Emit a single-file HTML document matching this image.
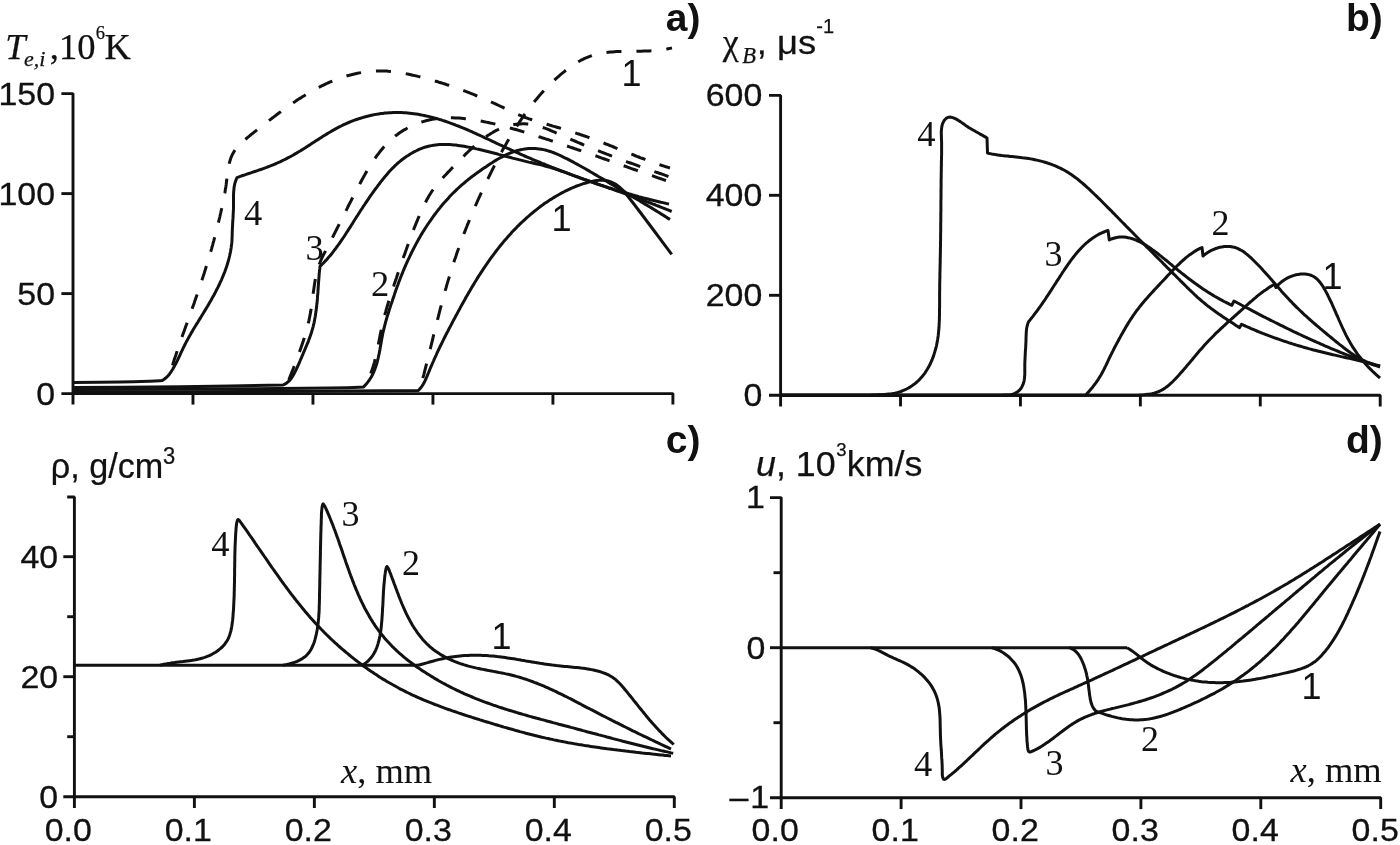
<!DOCTYPE html>
<html><head><meta charset="utf-8"><title>Figure</title>
<style>html,body{margin:0;padding:0;background:#fff}svg{display:block}</style></head>
<body>
<svg width="1400" height="845" viewBox="0 0 1400 845">
<rect width="1400" height="845" fill="#fff"/>
<g fill="none" stroke="#111" stroke-linecap="butt" stroke-linejoin="bevel">
<path d="M61.4 93.6L73 93.6L73 404.6" stroke-width="2.9"/>
<path d="M61.4 393.6L672.9 393.6L672.9 404.6" stroke-width="2.9"/>
<path d="M192.98000000000002 393.6L192.98000000000002 404.6" stroke-width="2.9"/>
<path d="M312.96000000000004 393.6L312.96000000000004 404.6" stroke-width="2.9"/>
<path d="M432.94 393.6L432.94 404.6" stroke-width="2.9"/>
<path d="M552.9200000000001 393.6L552.9200000000001 404.6" stroke-width="2.9"/>
<path d="M61.4 193.6L73 193.6" stroke-width="2.9"/>
<path d="M61.4 293.6L73 293.6" stroke-width="2.9"/>
<path d="M769 95.4L780.6 95.4L780.6 406.4" stroke-width="2.9"/>
<path d="M769 395.3L1380.2 395.3L1380.2 406.4" stroke-width="2.9"/>
<path d="M900.52 395.3L900.52 406.4" stroke-width="2.9"/>
<path d="M1020.44 395.3L1020.44 406.4" stroke-width="2.9"/>
<path d="M1140.3600000000001 395.3L1140.3600000000001 406.4" stroke-width="2.9"/>
<path d="M1260.28 395.3L1260.28 406.4" stroke-width="2.9"/>
<path d="M769 195.3L780.6 195.3" stroke-width="2.9"/>
<path d="M769 295.3L780.6 295.3" stroke-width="2.9"/>
<path d="M67.2 497L74.4 497L74.4 808" stroke-width="2.9"/>
<path d="M63.3 796.8L674.3 796.8L674.3 808" stroke-width="2.9"/>
<path d="M194.38 796.8L194.38 808" stroke-width="2.9"/>
<path d="M314.36 796.8L314.36 808" stroke-width="2.9"/>
<path d="M434.34000000000003 796.8L434.34000000000003 808" stroke-width="2.9"/>
<path d="M554.32 796.8L554.32 808" stroke-width="2.9"/>
<path d="M63.3 556.7L74.4 556.7" stroke-width="2.9"/>
<path d="M63.3 676.7L74.4 676.7" stroke-width="2.9"/>
<path d="M67.2 616.7L74.4 616.7" stroke-width="2.9"/>
<path d="M67.2 736.7L74.4 736.7" stroke-width="2.9"/>
<path d="M770 497.6L781.2 497.6L781.2 809.1" stroke-width="2.9"/>
<path d="M770 797.7L1380.7 797.7L1380.7 809.1" stroke-width="2.9"/>
<path d="M901.1 797.7L901.1 809.1" stroke-width="2.9"/>
<path d="M1021.0 797.7L1021.0 809.1" stroke-width="2.9"/>
<path d="M1140.9 797.7L1140.9 809.1" stroke-width="2.9"/>
<path d="M1260.8000000000002 797.7L1260.8000000000002 809.1" stroke-width="2.9"/>
<path d="M770 647.7L781.2 647.7" stroke-width="2.9"/>
<path d="M773.5 572.7L781.2 572.7" stroke-width="2.9"/>
<path d="M773.5 722.7L781.2 722.7" stroke-width="2.9"/>
</g>
<g fill="none" stroke="#111" stroke-linecap="butt" stroke-linejoin="round">
<path d="M73.0 382.5C80.8 382.4 107.2 382.2 120.0 382.0C132.8 381.8 143.0 381.5 150.0 381.3C157.0 381.1 160.0 380.7 162.0 380.6L163.8 379.5L165.4 378.3L166.9 376.9L168.3 375.4L169.6 373.9L170.8 372.2L171.9 370.5L173.0 368.8L174.0 366.9L175.0 365.1L176.0 363.2L177.0 361.3L177.9 359.4L178.8 357.5L179.7 355.6L180.6 353.6L181.5 351.7L182.4 349.8L183.3 347.8L184.3 345.9L185.2 344.0L186.2 342.1L187.2 340.3L188.2 338.4L189.2 336.6L190.3 334.8L191.3 332.9L192.4 331.1L193.4 329.3L194.5 327.5L195.6 325.7L196.7 323.9L197.8 322.2L198.9 320.4L200.0 318.6L201.1 316.8L202.2 315.0L203.3 313.2L204.4 311.4L205.5 309.6L206.6 307.8L207.7 306.0L208.7 304.2L209.8 302.3L210.9 300.5L211.9 298.6L212.9 296.8L214.0 294.9L215.0 293.1L215.9 291.2L216.9 289.3L217.9 287.4L218.8 285.5L219.7 283.6L220.6 281.7L221.5 279.8L222.3 277.8L223.1 275.9L223.9 273.9L224.7 272.0L225.4 270.0L226.1 268.0L226.8 266.0L227.4 264.0L228.0 262.0L228.6 260.0L229.1 258.0L229.6 256.0L230.0 253.9L230.5 251.8L230.8 249.8L231.2 247.7L231.4 245.6L231.7 243.5L231.9 241.4L232.0 239.3L232.1 237.1L232.2 235.0L232.2 232.9L232.3 230.8L232.4 228.7L232.5 226.7L232.6 224.6L232.7 222.5L232.8 220.5L233.0 218.4L233.1 216.4L233.2 214.3L233.3 212.2L233.4 210.2L233.5 208.1L233.5 206.0L233.5 203.9L233.5 201.8L233.5 199.7L233.5 197.6L233.5 195.5L233.6 193.4L233.7 191.4L233.9 189.3L234.1 187.3L234.5 185.3L234.9 183.3L235.5 181.4L236.2 179.5L237.0 177.6L239.0 176.9L240.9 176.2L242.9 175.5L244.9 174.9L246.9 174.2L248.8 173.5L250.8 172.9L252.8 172.2L254.8 171.5L256.8 170.9L258.7 170.2L260.7 169.5L262.7 168.8L264.6 168.1L266.6 167.4L268.5 166.6L270.4 165.9L272.4 165.1L274.3 164.3L276.2 163.5L278.1 162.6L280.0 161.8L281.9 160.9L283.7 160.0L285.6 159.1L287.4 158.1L289.3 157.2L291.1 156.2L292.9 155.2L294.7 154.1L296.5 153.1L298.3 152.0L300.1 151.0L301.9 149.9L303.7 148.8L305.4 147.7L307.2 146.5L309.0 145.4L310.7 144.3L312.5 143.1L314.2 142.0L316.0 140.8L317.7 139.7L319.5 138.6L321.3 137.4L323.0 136.3L324.8 135.2L326.6 134.1L328.4 133.0L330.2 132.0L332.0 130.9L333.8 129.9L335.6 128.9L337.4 127.9L339.3 126.9L341.1 126.0L343.0 125.0L344.9 124.2L346.8 123.3L348.7 122.5L350.7 121.7L352.6 120.9L354.6 120.2L356.5 119.5L358.5 118.8L360.5 118.2L362.5 117.6L364.5 117.0L366.5 116.5L368.5 116.0L370.6 115.5L372.6 115.0L374.6 114.6L376.7 114.3L378.8 113.9L380.8 113.6L382.9 113.4L384.9 113.1L387.0 112.9L389.1 112.8L391.2 112.7L393.2 112.6L395.3 112.5L397.4 112.5L399.5 112.5L401.5 112.6L403.6 112.7L405.7 112.8L407.8 113.0L409.8 113.2L411.9 113.4L414.0 113.7L416.0 114.0L418.1 114.3L420.1 114.7L422.2 115.1L424.2 115.5L426.3 116.0L428.3 116.4L430.4 116.9L432.4 117.4L434.4 118.0L436.4 118.5L438.5 119.1L440.5 119.7L442.5 120.4L444.5 121.0L446.4 121.7L448.4 122.4L450.4 123.1L452.4 123.8L454.3 124.5L456.3 125.3L458.2 126.0L460.2 126.8L462.1 127.6L464.0 128.4L465.9 129.2L467.9 130.0L469.8 130.9L471.7 131.7L473.6 132.6L475.5 133.4L477.4 134.3L479.3 135.1L481.2 136.0L483.0 136.9L484.9 137.8L486.8 138.6L488.7 139.5L490.6 140.4L492.5 141.3L494.3 142.2L496.2 143.1L498.1 144.0L500.0 144.9L501.9 145.7L503.8 146.6L505.7 147.5L507.6 148.4L509.5 149.2L511.4 150.1L513.3 150.9L515.2 151.8L517.1 152.6L519.0 153.5L520.9 154.3L522.8 155.2L524.7 156.0L526.6 156.8L528.5 157.6L530.5 158.4L532.4 159.3L534.3 160.1L536.2 160.9L538.2 161.7L540.1 162.5L542.0 163.3L544.0 164.0L545.9 164.8L547.8 165.6L549.8 166.4L551.7 167.2L553.7 167.9L555.6 168.7L557.5 169.4L559.5 170.2L561.4 171.0L563.4 171.7L565.3 172.4L567.3 173.2L569.2 173.9L571.2 174.7L573.2 175.4L575.1 176.1L577.1 176.8L579.0 177.5L581.0 178.3L583.0 179.0L584.9 179.7L586.9 180.4L588.8 181.0L590.8 181.7L592.8 182.4L594.8 183.1L596.7 183.8L598.7 184.4L600.7 185.1L602.7 185.7L604.6 186.4L606.6 187.0L608.6 187.7L610.6 188.3L612.6 188.9L614.6 189.6L616.6 190.2L618.6 190.8L620.6 191.4L622.6 192.0L624.5 192.6L626.5 193.2L628.6 193.8L630.6 194.3L632.6 194.9L634.6 195.5L636.6 196.0L638.6 196.6L640.6 197.1L642.6 197.7L644.6 198.2L646.7 198.7L648.7 199.2L650.7 199.7L652.7 200.2L654.8 200.7L656.8 201.2L658.8 201.7L660.8 202.2L662.9 202.6L664.9 203.1L667.0 203.6L669.0 204.0" stroke-width="3.0"/>
<path d="M73.0 387.5C85.8 387.4 123.8 387.2 150.0 387.0C176.2 386.8 207.8 386.3 230.0 386.0C252.2 385.7 274.2 385.2 283.0 385.0L284.9 384.1L286.7 383.0L288.2 381.7L289.7 380.3L291.0 378.7L292.2 376.9L293.3 375.1L294.3 373.2L295.3 371.3L296.3 369.4L297.2 367.4L298.1 365.4L299.0 363.3L299.9 361.3L300.7 359.3L301.6 357.3L302.5 355.2L303.3 353.2L304.2 351.2L305.0 349.2L305.9 347.2L306.7 345.2L307.6 343.2L308.4 341.1L309.1 339.1L309.9 337.1L310.6 335.0L311.3 333.0L311.9 330.9L312.5 328.9L313.1 326.8L313.6 324.7L314.1 322.6L314.5 320.5L314.9 318.3L315.3 316.2L315.6 314.1L315.9 311.9L316.2 309.8L316.5 307.6L316.7 305.4L317.0 303.3L317.2 301.1L317.4 298.9L317.5 296.7L317.7 294.6L317.9 292.4L318.0 290.2L318.2 288.0L318.3 285.8L318.5 283.7L318.6 281.5L318.8 279.3L319.0 277.1L319.1 275.0L319.3 272.8L319.5 270.7L319.8 268.5L320.0 266.4L321.5 264.9L323.0 263.5L324.4 262.0L325.9 260.4L327.2 258.9L328.6 257.3L330.0 255.8L331.3 254.2L332.6 252.6L333.8 250.9L335.1 249.3L336.3 247.6L337.5 246.0L338.7 244.3L339.9 242.6L341.1 240.9L342.3 239.2L343.4 237.5L344.6 235.8L345.7 234.0L346.8 232.3L347.9 230.6L349.0 228.8L350.2 227.1L351.3 225.3L352.4 223.6L353.5 221.8L354.6 220.0L355.7 218.3L356.8 216.5L358.0 214.8L359.1 213.0L360.2 211.3L361.3 209.5L362.5 207.8L363.6 206.0L364.8 204.3L365.9 202.6L367.1 200.8L368.3 199.1L369.4 197.4L370.6 195.7L371.8 194.0L373.0 192.3L374.2 190.6L375.4 189.0L376.7 187.3L377.9 185.6L379.2 184.0L380.4 182.4L381.7 180.7L383.0 179.1L384.3 177.5L385.6 175.9L386.9 174.4L388.3 172.8L389.6 171.3L391.0 169.8L392.4 168.3L393.9 166.9L395.4 165.4L396.9 164.0L398.4 162.7L400.0 161.3L401.6 160.0L403.3 158.7L405.0 157.5L406.7 156.3L408.5 155.2L410.3 154.0L412.1 153.0L414.0 151.9L415.9 151.0L417.8 150.0L419.7 149.2L421.7 148.4L423.6 147.7L425.6 147.0L427.6 146.5L429.5 146.0L431.5 145.6L433.5 145.2L435.6 144.9L437.6 144.7L439.6 144.6L441.6 144.5L443.7 144.4L445.7 144.4L447.8 144.5L449.8 144.6L451.9 144.7L453.9 144.9L456.0 145.1L458.0 145.4L460.1 145.7L462.1 146.0L464.2 146.3L466.2 146.7L468.3 147.1L470.3 147.5L472.4 148.0L474.4 148.4L476.5 148.9L478.5 149.3L480.5 149.8L482.5 150.3L484.6 150.8L486.6 151.3L488.6 151.8L490.6 152.3L492.6 152.8L494.6 153.3L496.6 153.8L498.6 154.4L500.6 154.9L502.6 155.4L504.6 156.0L506.6 156.5L508.6 157.0L510.6 157.5L512.6 158.1L514.6 158.6L516.7 159.1L518.7 159.6L520.7 160.1L522.7 160.6L524.7 161.1L526.7 161.6L528.7 162.1L530.8 162.5L532.8 163.0L534.8 163.5L536.8 164.0L538.8 164.4L540.8 164.9L542.9 165.4L544.9 166.0L546.9 166.5L548.9 167.1L550.9 167.6L552.8 168.2L554.8 168.9L556.8 169.5L558.7 170.2L560.7 170.8L562.7 171.5L564.6 172.2L566.6 172.9L568.5 173.6L570.5 174.4L572.4 175.1L574.4 175.8L576.3 176.5L578.3 177.2L580.2 177.9L582.2 178.6L584.1 179.3L586.1 180.0L588.0 180.7L590.0 181.4L591.9 182.1L593.9 182.8L595.9 183.5L597.8 184.2L599.8 184.8L601.7 185.5L603.7 186.2L605.6 186.9L607.6 187.6L609.6 188.3L611.5 188.9L613.5 189.6L615.4 190.3L617.4 191.0L619.3 191.7L621.3 192.4L623.3 193.1L625.2 193.8L627.2 194.4L629.1 195.1L631.1 195.8L633.0 196.5L635.0 197.2L636.9 198.0L638.9 198.7L640.8 199.4L642.7 200.1L644.7 200.8L646.6 201.6L648.6 202.3L650.5 203.0L652.4 203.8L654.4 204.5L656.3 205.3L658.2 206.0L660.2 206.8L662.1 207.6L664.0 208.3L665.9 209.1L667.9 209.9L669.8 210.7L671.7 211.5" stroke-width="3.0"/>
<path d="M73.0 389.5C94.2 389.4 157.2 389.2 200.0 389.0C242.8 388.8 302.8 388.3 330.0 388.0C357.2 387.7 357.8 387.2 363.3 387.1L364.8 385.6L366.3 384.0L367.6 382.4L368.9 380.7L370.0 379.0L371.1 377.3L372.1 375.5L373.0 373.6L373.8 371.8L374.6 369.9L375.3 368.0L376.0 366.0L376.6 364.1L377.2 362.1L377.7 360.0L378.2 358.0L378.6 356.0L379.1 353.9L379.5 351.8L379.9 349.7L380.2 347.7L380.6 345.6L381.0 343.5L381.3 341.4L381.7 339.3L382.1 337.2L382.5 335.1L382.9 333.0L383.4 331.0L383.9 328.9L384.4 326.9L384.9 324.8L385.4 322.8L386.0 320.8L386.6 318.8L387.1 316.8L387.8 314.8L388.4 312.8L389.0 310.8L389.6 308.8L390.3 306.8L390.9 304.8L391.6 302.9L392.3 300.9L392.9 298.9L393.6 296.9L394.3 294.9L394.9 292.9L395.6 291.0L396.3 289.0L397.0 287.0L397.8 285.0L398.5 283.1L399.2 281.1L400.0 279.1L400.7 277.2L401.5 275.2L402.3 273.3L403.1 271.3L403.9 269.4L404.7 267.4L405.6 265.5L406.4 263.6L407.3 261.6L408.2 259.7L409.1 257.8L410.0 255.9L410.9 254.0L411.8 252.1L412.8 250.2L413.7 248.4L414.7 246.5L415.7 244.6L416.7 242.8L417.7 240.9L418.7 239.1L419.8 237.3L420.8 235.4L421.9 233.6L423.0 231.8L424.1 230.1L425.2 228.3L426.4 226.5L427.5 224.8L428.7 223.0L429.9 221.3L431.1 219.6L432.3 217.8L433.5 216.1L434.7 214.5L436.0 212.8L437.3 211.1L438.6 209.5L439.9 207.9L441.2 206.2L442.5 204.6L443.9 203.0L445.3 201.5L446.7 199.9L448.1 198.4L449.5 196.8L450.9 195.3L452.4 193.8L453.9 192.3L455.4 190.9L456.9 189.4L458.4 188.0L459.9 186.6L461.5 185.2L463.1 183.8L464.7 182.5L466.3 181.1L467.9 179.8L469.6 178.5L471.2 177.2L472.9 175.9L474.6 174.7L476.3 173.4L478.0 172.2L479.8 171.0L481.5 169.7L483.2 168.5L485.0 167.4L486.8 166.2L488.5 165.0L490.3 163.8L492.1 162.7L493.9 161.5L495.7 160.4L497.6 159.3L499.4 158.3L501.2 157.3L503.1 156.3L505.0 155.3L506.9 154.4L508.8 153.6L510.7 152.8L512.7 152.0L514.7 151.4L516.7 150.8L518.7 150.2L520.7 149.8L522.7 149.4L524.8 149.0L526.8 148.8L528.9 148.6L531.0 148.5L533.0 148.5L535.1 148.5L537.2 148.7L539.2 148.9L541.3 149.2L543.3 149.6L545.3 150.0L547.3 150.6L549.3 151.2L551.3 151.8L553.2 152.5L555.2 153.3L557.2 154.1L559.1 155.0L561.0 155.9L562.9 156.8L564.8 157.8L566.7 158.7L568.6 159.7L570.5 160.7L572.4 161.7L574.3 162.7L576.1 163.7L578.0 164.7L579.8 165.7L581.7 166.8L583.5 167.8L585.3 168.8L587.2 169.9L589.0 170.9L590.8 172.0L592.6 173.0L594.4 174.1L596.2 175.1L598.0 176.2L599.8 177.2L601.7 178.3L603.5 179.4L605.3 180.4L607.0 181.5L608.8 182.6L610.6 183.6L612.4 184.7L614.2 185.8L616.0 186.9L617.8 187.9L619.6 189.0L621.4 190.1L623.2 191.2L625.1 192.2L626.9 193.3L628.7 194.4L630.5 195.4L632.3 196.5L634.1 197.6L635.9 198.7L637.7 199.7L639.5 200.8L641.3 201.9L643.2 203.0L645.0 204.1L646.8 205.1L648.6 206.2L650.4 207.3L652.2 208.4L654.0 209.5L655.8 210.6L657.6 211.7L659.4 212.8L661.1 213.9L662.9 215.0L664.7 216.1L666.5 217.2L668.2 218.4L670.0 219.5" stroke-width="3.0"/>
<path d="M73.0 392.0C102.5 391.9 192.4 391.8 250.0 391.5C307.6 391.2 390.2 390.7 418.3 390.5L419.7 389.0L421.0 387.5L422.2 385.8L423.3 384.1L424.3 382.3L425.2 380.4L426.1 378.5L426.9 376.6L427.7 374.7L428.5 372.7L429.3 370.8L430.1 368.8L430.9 366.9L431.8 364.9L432.6 363.0L433.5 361.0L434.3 359.1L435.2 357.2L436.1 355.3L436.9 353.3L437.8 351.4L438.7 349.5L439.6 347.6L440.5 345.7L441.5 343.8L442.4 341.9L443.3 340.1L444.2 338.2L445.2 336.3L446.1 334.4L447.1 332.6L448.1 330.7L449.0 328.8L450.0 327.0L451.0 325.1L452.0 323.2L452.9 321.4L453.9 319.5L454.9 317.7L455.9 315.8L456.9 314.0L457.9 312.1L458.9 310.2L459.9 308.4L460.9 306.5L461.9 304.7L463.0 302.9L464.0 301.0L465.0 299.2L466.0 297.3L467.1 295.5L468.1 293.7L469.2 291.9L470.3 290.0L471.3 288.2L472.4 286.4L473.5 284.6L474.6 282.8L475.7 281.0L476.8 279.2L477.9 277.4L479.0 275.6L480.2 273.9L481.3 272.1L482.5 270.3L483.6 268.6L484.8 266.8L486.0 265.1L487.2 263.4L488.4 261.6L489.6 259.9L490.8 258.2L492.1 256.5L493.3 254.8L494.6 253.1L495.8 251.5L497.1 249.8L498.4 248.1L499.7 246.5L501.1 244.8L502.4 243.2L503.7 241.6L505.1 240.0L506.5 238.4L507.9 236.8L509.3 235.2L510.7 233.7L512.1 232.1L513.5 230.6L515.0 229.1L516.5 227.6L517.9 226.1L519.4 224.6L520.9 223.1L522.5 221.7L524.0 220.3L525.6 218.8L527.1 217.4L528.7 216.1L530.3 214.7L531.9 213.3L533.5 212.0L535.1 210.7L536.8 209.4L538.4 208.1L540.1 206.8L541.8 205.6L543.5 204.3L545.2 203.1L547.0 201.9L548.7 200.8L550.5 199.6L552.3 198.5L554.1 197.4L555.9 196.3L557.7 195.2L559.5 194.2L561.4 193.1L563.3 192.2L565.1 191.2L567.0 190.3L569.0 189.3L570.9 188.5L572.8 187.6L574.8 186.8L576.7 186.0L578.7 185.3L580.7 184.6L582.7 183.9L584.7 183.3L586.7 182.7L588.8 182.1L590.8 181.6L592.9 181.2L594.9 180.8L597.0 180.5L599.1 180.3L601.1 180.2L603.1 180.3L605.1 180.4L607.1 180.8L609.1 181.3L611.0 182.0L612.9 182.8L614.8 183.8L616.6 184.9L618.3 186.2L620.0 187.5L621.6 189.0L623.2 190.5L624.6 192.1L626.0 193.8C628.3 196.8 635.2 205.6 640.0 212.0C644.8 218.4 649.7 224.9 655.0 232.0C660.3 239.1 668.9 250.6 671.7 254.3" stroke-width="3.0"/>
<path d="M169.0 377.0L169.6 375.0L170.2 373.0L170.8 371.0L171.4 369.0L172.0 367.1L172.6 365.1L173.2 363.1L173.8 361.1L174.5 359.1L175.1 357.2L175.8 355.2L176.4 353.2L177.1 351.3L177.7 349.3L178.4 347.3L179.1 345.4L179.8 343.4L180.4 341.5L181.1 339.5L181.8 337.5L182.5 335.6L183.2 333.6L183.9 331.7L184.6 329.7L185.3 327.8L186.0 325.8L186.7 323.9L187.4 321.9L188.1 320.0L188.8 318.0L189.5 316.1L190.2 314.1L190.9 312.2L191.6 310.2L192.3 308.3L193.0 306.3L193.7 304.4L194.4 302.4L195.0 300.4L195.7 298.5L196.4 296.5L197.1 294.6L197.8 292.6L198.4 290.7L199.1 288.7L199.8 286.7L200.4 284.8L201.1 282.8L201.7 280.8L202.4 278.8L203.0 276.9L203.6 274.9L204.3 272.9L204.9 270.9L205.5 269.0L206.1 267.0L206.8 265.0L207.4 263.0L208.0 261.0L208.6 259.0L209.1 257.1L209.7 255.1L210.3 253.1L210.9 251.1L211.5 249.1L212.0 247.1L212.6 245.1L213.1 243.1L213.7 241.1L214.2 239.1L214.8 237.1L215.3 235.1L215.8 233.1L216.3 231.1L216.8 229.1L217.3 227.1L217.8 225.1L218.3 223.1L218.8 221.0L219.3 219.0L219.8 217.0L220.2 215.0L220.7 213.0L221.1 211.0L221.6 208.9L222.0 206.9L222.5 204.9L222.9 202.9L223.3 200.8L223.7 198.8L224.1 196.8L224.5 194.7L224.9 192.7L225.2 190.6L225.5 188.6L225.9 186.5L226.2 184.4L226.4 182.4L226.7 180.3L226.9 178.2L227.2 176.1L227.4 174.0L227.7 171.9L228.0 169.8L228.3 167.8L228.7 165.7L229.2 163.7L229.7 161.8L230.3 159.8L230.9 157.9L231.7 156.0L232.5 154.2L233.5 152.5L234.5 150.8L235.7 149.1L237.0 147.5L238.3 146.0L239.7 144.5L241.2 143.1L242.7 141.7L244.2 140.3L245.8 139.0L247.4 137.6L249.0 136.3L250.6 135.0L252.2 133.7L253.9 132.4L255.5 131.1L257.1 129.8L258.8 128.5L260.4 127.3L262.1 126.0L263.7 124.7L265.4 123.4L267.0 122.1L268.7 120.9L270.3 119.6L272.0 118.3L273.6 117.1L275.3 115.8L276.9 114.5L278.6 113.3L280.3 112.1L281.9 110.8L283.6 109.6L285.3 108.4L287.0 107.2L288.7 106.0L290.4 104.8L292.1 103.6L293.8 102.4L295.5 101.3L297.2 100.1L298.9 99.0L300.7 97.9L302.4 96.8L304.2 95.7L305.9 94.6L307.7 93.5L309.5 92.5L311.3 91.4L313.0 90.4L314.9 89.4L316.7 88.5L318.5 87.5L320.3 86.6L322.2 85.7L324.0 84.8L325.9 83.9L327.8 83.0L329.7 82.2L331.6 81.4L333.5 80.6L335.5 79.8L337.4 79.1L339.4 78.4L341.4 77.7L343.3 77.0L345.3 76.4L347.3 75.8L349.4 75.3L351.4 74.7L353.4 74.2L355.4 73.7L357.5 73.3L359.5 72.9L361.6 72.5L363.6 72.2L365.7 71.9L367.7 71.6L369.8 71.4L371.9 71.2L373.9 71.1L376.0 71.0L378.1 70.9L380.1 70.9L382.2 71.0L384.2 71.0L386.3 71.1L388.3 71.3L390.4 71.4L392.5 71.6L394.5 71.9L396.6 72.1L398.6 72.4L400.6 72.8L402.7 73.1L404.7 73.5L406.8 73.9L408.8 74.3L410.8 74.7L412.9 75.2L414.9 75.6L416.9 76.1L418.9 76.6L421.0 77.1L423.0 77.6L425.0 78.2L427.0 78.7L429.0 79.2L431.0 79.8L433.0 80.4L435.0 81.0L436.9 81.5L438.9 82.2L440.9 82.8L442.9 83.4L444.9 84.0L446.8 84.7L448.8 85.3L450.8 86.0L452.7 86.7L454.7 87.3L456.6 88.0L458.6 88.7L460.5 89.5L462.5 90.2L464.4 90.9L466.4 91.6L468.3 92.4L470.2 93.2L472.1 93.9L474.1 94.7L476.0 95.5L477.9 96.3L479.8 97.1L481.7 97.9L483.6 98.7L485.5 99.5L487.4 100.3L489.3 101.2L491.2 102.0L493.1 102.9L495.0 103.7L496.9 104.6L498.8 105.5L500.7 106.4L502.5 107.2L504.4 108.1L506.3 109.0L508.2 109.9L510.0 110.8L511.9 111.7L513.8 112.6L515.7 113.5L517.6 114.3L519.5 115.1L521.4 115.9L523.3 116.7L525.2 117.5L527.2 118.2L529.1 118.9L531.1 119.5L533.0 120.2L535.0 120.8L537.0 121.4L539.0 122.0L541.0 122.6L543.0 123.2L545.0 123.7L547.0 124.3L549.0 124.9L551.0 125.5L552.9 126.1L554.9 126.6L556.9 127.2L558.9 127.8L560.9 128.4L562.9 129.0L564.9 129.6L566.8 130.2L568.8 130.8L570.8 131.5L572.8 132.1L574.7 132.7L576.7 133.4L578.7 134.0L580.6 134.7L582.6 135.3L584.6 136.0L586.5 136.7L588.5 137.4L590.4 138.1L592.4 138.8L594.3 139.5L596.3 140.2L598.2 141.0L600.1 141.7L602.1 142.4L604.0 143.2L605.9 144.0L607.9 144.7L609.8 145.5L611.7 146.2L613.6 147.0L615.6 147.8L617.5 148.6L619.4 149.3L621.3 150.1L623.3 150.9L625.2 151.7L627.1 152.4L629.0 153.2L631.0 154.0L632.9 154.7L634.8 155.5L636.8 156.3L638.7 157.0L640.6 157.8L642.6 158.5L644.5 159.2L646.4 160.0L648.4 160.7L650.3 161.4L652.3 162.1L654.2 162.8L656.2 163.5L658.2 164.2L660.1 164.8L662.1 165.5L664.1 166.1L666.0 166.8L668.0 167.4L670.0 168.0" stroke-dasharray="15.0 15.0" stroke-dashoffset="17.9" stroke-width="3.0"/>
<path d="M288.0 382.0L288.8 380.1L289.5 378.1L290.3 376.1L291.1 374.2L291.8 372.2L292.6 370.3L293.4 368.3L294.1 366.4L294.9 364.4L295.6 362.4L296.4 360.5L297.1 358.5L297.9 356.5L298.6 354.6L299.3 352.6L300.0 350.6L300.7 348.6L301.4 346.6L302.1 344.6L302.8 342.6L303.4 340.6L304.1 338.6L304.7 336.6L305.3 334.6L305.9 332.6L306.4 330.6L307.0 328.6L307.5 326.5L308.0 324.5L308.5 322.4L309.0 320.4L309.4 318.3L309.8 316.3L310.2 314.2L310.6 312.1L310.9 310.1L311.3 308.0L311.6 305.9L311.9 303.8L312.1 301.7L312.4 299.6L312.7 297.5L312.9 295.4L313.2 293.3L313.5 291.2L313.8 289.2L314.1 287.1L314.4 285.0L314.7 282.9L315.1 280.9L315.4 278.8L315.8 276.8L316.3 274.7L316.8 272.7L317.3 270.7L317.8 268.7L318.5 266.7L319.1 264.7L319.9 262.8L320.7 260.8L321.5 258.9L322.4 257.0L323.3 255.1L324.3 253.3L325.3 251.4L326.2 249.5L327.2 247.6L328.2 245.8L329.2 243.9L330.1 242.0L331.1 240.2L332.1 238.3L333.0 236.4L334.0 234.6L334.9 232.7L335.9 230.8L336.8 229.0L337.7 227.1L338.7 225.2L339.6 223.4L340.6 221.5L341.5 219.6L342.4 217.7L343.4 215.9L344.3 214.0L345.3 212.1L346.2 210.3L347.2 208.4L348.1 206.5L349.0 204.6L350.0 202.8L351.0 200.9L351.9 199.0L352.9 197.2L353.8 195.3L354.8 193.4L355.8 191.5L356.7 189.7L357.7 187.8L358.7 185.9L359.7 184.1L360.7 182.2L361.7 180.3L362.7 178.5L363.7 176.6L364.8 174.8L365.8 172.9L366.9 171.1L368.0 169.3L369.1 167.5L370.2 165.7L371.3 163.9L372.4 162.1L373.6 160.4L374.8 158.6L376.0 156.9L377.2 155.2L378.5 153.6L379.8 151.9L381.1 150.3L382.4 148.7L383.7 147.1L385.1 145.6L386.5 144.1L388.0 142.6L389.5 141.2L391.0 139.8L392.5 138.4L394.1 137.1L395.7 135.7L397.4 134.5L399.0 133.3L400.8 132.1L402.5 130.9L404.3 129.8L406.2 128.8L408.0 127.8L409.9 126.8L411.9 125.9L413.8 125.0L415.8 124.2L417.8 123.4L419.8 122.7L421.8 122.0L423.9 121.4L425.9 120.8L428.0 120.3L430.1 119.8L432.2 119.3L434.2 119.0L436.3 118.6L438.4 118.4L440.5 118.2L442.6 118.0L444.7 117.9L446.8 117.8L448.9 117.8L450.9 117.8L453.0 117.8L455.1 117.9L457.2 118.0L459.3 118.1L461.4 118.3L463.4 118.5L465.5 118.7L467.6 119.0L469.7 119.3L471.7 119.6L473.8 119.9L475.9 120.2L477.9 120.5L480.0 120.9L482.0 121.3L484.1 121.7L486.1 122.1L488.2 122.5L490.2 123.0L492.3 123.4L494.3 123.9L496.4 124.4L498.4 124.9L500.5 125.4L502.5 125.9L504.5 126.4L506.6 127.0L508.6 127.5L510.6 128.1L512.7 128.7L514.7 129.2L516.7 129.8L518.7 130.4L520.7 131.0L522.8 131.6L524.8 132.2L526.8 132.9L528.8 133.5L530.8 134.1L532.8 134.8L534.8 135.4L536.9 136.0L538.9 136.7L540.9 137.3L542.9 138.0L544.9 138.6L546.9 139.3L548.9 139.9L550.9 140.6L552.9 141.3L554.9 141.9L556.9 142.6L558.8 143.2L560.8 143.9L562.8 144.6L564.8 145.3L566.8 145.9L568.8 146.6L570.8 147.3L572.8 148.0L574.8 148.7L576.7 149.3L578.7 150.0L580.7 150.7L582.7 151.4L584.7 152.1L586.7 152.8L588.6 153.5L590.6 154.2L592.6 154.8L594.6 155.5L596.6 156.2L598.5 156.9L600.5 157.6L602.5 158.3L604.5 159.0L606.5 159.7L608.4 160.4L610.4 161.1L612.4 161.8L614.4 162.5L616.4 163.2L618.3 163.9L620.3 164.6L622.3 165.3L624.3 166.0L626.3 166.7L628.2 167.4L630.2 168.1L632.2 168.8L634.2 169.5L636.2 170.2L638.2 170.9L640.1 171.6L642.1 172.3L644.1 173.0L646.1 173.6L648.1 174.3L650.1 175.0L652.1 175.7L654.0 176.4L656.0 177.1L658.0 177.8L660.0 178.5L662.0 179.1L664.0 179.8L666.0 180.5" stroke-dasharray="15.0 15.0" stroke-dashoffset="27.9" stroke-width="3.0"/>
<path d="M366.0 384.0L367.0 382.1L367.9 380.3L368.8 378.4L369.6 376.4L370.4 374.5L371.1 372.6L371.8 370.6L372.5 368.6L373.1 366.6L373.7 364.6L374.3 362.6L374.8 360.6L375.3 358.6L375.8 356.5L376.3 354.5L376.7 352.4L377.2 350.4L377.6 348.3L378.0 346.3L378.4 344.2L378.8 342.1L379.2 340.1L379.6 338.0L380.0 335.9L380.4 333.9L380.8 331.8L381.3 329.7L381.7 327.7L382.2 325.6L382.6 323.6L383.1 321.5L383.6 319.5L384.1 317.5L384.7 315.4L385.2 313.4L385.8 311.4L386.3 309.4L386.9 307.4L387.5 305.4L388.1 303.4L388.7 301.4L389.3 299.4L389.9 297.4L390.6 295.4L391.2 293.4L391.9 291.4L392.5 289.4L393.2 287.4L393.9 285.4L394.5 283.4L395.2 281.4L395.9 279.5L396.6 277.5L397.2 275.5L397.9 273.5L398.6 271.5L399.3 269.5L400.0 267.6L400.7 265.6L401.3 263.6L402.0 261.6L402.7 259.6L403.4 257.6L404.1 255.6L404.8 253.7L405.5 251.7L406.2 249.7L406.9 247.7L407.6 245.7L408.3 243.8L409.0 241.8L409.8 239.8L410.5 237.8L411.2 235.9L412.0 233.9L412.7 231.9L413.5 230.0L414.2 228.0L415.0 226.1L415.8 224.1L416.6 222.2L417.4 220.3L418.2 218.3L419.0 216.4L419.8 214.5L420.7 212.5L421.5 210.6L422.4 208.7L423.3 206.8L424.2 204.9L425.1 203.1L426.1 201.2L427.0 199.4L428.1 197.6L429.1 195.8L430.2 194.0L431.3 192.2L432.5 190.5L433.7 188.8L434.9 187.1L436.2 185.5L437.5 183.9L438.9 182.3L440.3 180.7L441.7 179.1L443.1 177.5L444.5 176.0L446.0 174.5L447.4 172.9L448.9 171.4L450.3 169.9L451.8 168.3L453.3 166.8L454.7 165.3L456.2 163.8L457.6 162.3L459.1 160.8L460.5 159.3L462.0 157.8L463.5 156.4L464.9 154.9L466.4 153.4L467.9 152.0L469.4 150.5L471.0 149.1L472.5 147.7L474.1 146.3L475.7 144.9L477.3 143.6L478.9 142.2L480.5 140.9L482.2 139.6L483.9 138.3L485.6 137.0L487.3 135.8L489.1 134.7L490.9 133.5L492.7 132.5L494.5 131.4L496.4 130.4L498.3 129.5L500.2 128.7L502.1 127.9L504.1 127.1L506.1 126.5L508.1 125.9L510.1 125.4L512.2 124.9L514.2 124.5L516.3 124.2L518.4 124.0L520.4 123.9L522.5 123.8L524.6 123.8L526.7 123.9L528.7 124.1L530.8 124.4L532.8 124.7L534.8 125.1L536.8 125.6L538.8 126.2L540.8 126.8L542.8 127.5L544.8 128.2L546.8 128.9L548.7 129.7L550.7 130.5L552.6 131.4L554.6 132.2L556.5 133.1L558.5 134.0L560.4 134.8L562.3 135.7L564.3 136.5L566.2 137.4L568.1 138.2L570.1 139.1L572.0 139.9L573.9 140.7L575.9 141.5L577.8 142.4L579.7 143.2L581.7 144.0L583.6 144.8L585.5 145.6L587.4 146.4L589.4 147.2L591.3 148.0L593.2 148.8L595.2 149.6L597.1 150.3L599.1 151.1L601.0 151.9L602.9 152.6L604.9 153.4L606.8 154.2L608.8 154.9L610.7 155.7L612.7 156.4L614.6 157.2L616.6 157.9L618.6 158.6L620.5 159.4L622.5 160.1L624.5 160.8L626.5 161.6L628.4 162.3L630.4 163.0L632.4 163.7L634.4 164.4L636.4 165.1L638.3 165.8L640.3 166.6L642.3 167.3L644.3 168.0L646.3 168.7L648.3 169.4L650.2 170.1L652.2 170.8L654.2 171.5L656.2 172.2L658.2 172.8L660.1 173.5L662.1 174.2L664.1 174.9L666.1 175.6L668.0 176.3L670.0 177.0" stroke-dasharray="15.0 15.0" stroke-dashoffset="18.4" stroke-width="3.0"/>
<path d="M420.5 387.0L421.0 385.0L421.6 383.1L422.1 381.1L422.6 379.1L423.1 377.1L423.7 375.1L424.2 373.1L424.7 371.2L425.2 369.2L425.7 367.2L426.2 365.2L426.7 363.2L427.2 361.2L427.7 359.2L428.2 357.2L428.7 355.2L429.2 353.2L429.7 351.2L430.2 349.2L430.7 347.2L431.2 345.2L431.7 343.2L432.2 341.2L432.7 339.2L433.1 337.2L433.6 335.2L434.1 333.2L434.6 331.2L435.1 329.2L435.6 327.2L436.1 325.2L436.6 323.2L437.1 321.2L437.6 319.2L438.2 317.2L438.7 315.2L439.2 313.2L439.7 311.2L440.2 309.2L440.7 307.2L441.3 305.2L441.8 303.3L442.3 301.3L442.9 299.3L443.4 297.3L443.9 295.3L444.5 293.3L445.0 291.3L445.6 289.3L446.2 287.4L446.7 285.4L447.3 283.4L447.9 281.4L448.5 279.4L449.1 277.5L449.7 275.5L450.3 273.5L450.9 271.6L451.5 269.6L452.1 267.7L452.7 265.7L453.4 263.7L454.0 261.8L454.6 259.8L455.3 257.9L456.0 256.0L456.6 254.0L457.3 252.1L458.0 250.1L458.7 248.2L459.3 246.3L460.0 244.3L460.7 242.4L461.5 240.5L462.2 238.6L462.9 236.6L463.6 234.7L464.3 232.8L465.1 230.9L465.8 229.0L466.6 227.1L467.3 225.2L468.1 223.3L468.9 221.4L469.6 219.5L470.4 217.6L471.2 215.7L472.0 213.8L472.8 211.9L473.6 210.0L474.4 208.1L475.2 206.2L476.1 204.3L476.9 202.5L477.7 200.6L478.6 198.7L479.4 196.8L480.3 195.0L481.1 193.1L482.0 191.2L482.8 189.3L483.7 187.5L484.6 185.6L485.5 183.8L486.4 181.9L487.3 180.1L488.2 178.2L489.1 176.3L490.0 174.5L490.9 172.6L491.8 170.8L492.7 169.0L493.7 167.1L494.6 165.3L495.6 163.4L496.5 161.6L497.5 159.8L498.4 157.9L499.4 156.1L500.4 154.3L501.4 152.5L502.3 150.7L503.3 148.8L504.3 147.0L505.4 145.2L506.4 143.4L507.4 141.6L508.4 139.9L509.5 138.1L510.5 136.3L511.6 134.5L512.7 132.8L513.8 131.0L514.8 129.3L515.9 127.5L517.1 125.8L518.2 124.1L519.3 122.3L520.4 120.6L521.6 118.9L522.8 117.2L523.9 115.5L525.1 113.9L526.3 112.2L527.5 110.5L528.8 108.9L530.0 107.3L531.2 105.6L532.5 104.0L533.8 102.4L535.1 100.8L536.4 99.3L537.7 97.7L539.0 96.1L540.4 94.6L541.7 93.1L543.1 91.5L544.5 90.0L545.9 88.5L547.3 87.1L548.7 85.6L550.2 84.1L551.7 82.7L553.1 81.3L554.6 79.9L556.2 78.5L557.7 77.1L559.2 75.8L560.8 74.4L562.4 73.1L564.0 71.8L565.6 70.5L567.3 69.2L568.9 68.0L570.6 66.8L572.3 65.6L574.0 64.4L575.8 63.3L577.5 62.2L579.3 61.2L581.1 60.2L582.9 59.3L584.7 58.4L586.6 57.6L588.5 56.9L590.4 56.2L592.3 55.5L594.3 54.9L596.2 54.4L598.2 53.9L600.2 53.5L602.2 53.1L604.2 52.8L606.2 52.5L608.3 52.3L610.3 52.1L612.4 51.9L614.5 51.7L616.5 51.6L618.6 51.5L620.7 51.4L622.7 51.4L624.8 51.3L626.9 51.3L628.9 51.3L631.0 51.3L633.1 51.3L635.2 51.3L637.2 51.2L639.3 51.2L641.4 51.2L643.4 51.1L645.5 51.1L647.6 51.0L649.6 50.9L651.7 50.8L653.7 50.6L655.8 50.5L657.8 50.3L659.8 50.0L661.9 49.8L663.9 49.5L665.9 49.2L668.0 48.8L670.0 48.4L672.0 48.0" stroke-dasharray="15.0 15.0" stroke-dashoffset="20.8" stroke-width="3.0"/>
<path d="M781.0 395.3L870.0 395.3L872.1 395.1L874.1 395.0L876.2 394.9L878.3 394.8L880.4 394.7L882.5 394.6L884.5 394.5L886.6 394.3L888.7 394.1L890.8 393.9L892.8 393.6L894.9 393.2L896.9 392.7L898.9 392.1L900.9 391.5L902.8 390.7L904.7 389.9L906.6 389.0L908.5 388.0L910.3 386.9L912.0 385.8L913.7 384.6L915.3 383.3L916.9 382.0L918.4 380.6L919.9 379.1L921.3 377.6L922.6 376.0L923.9 374.4L925.1 372.8L926.2 371.0L927.3 369.3L928.3 367.5L929.3 365.7L930.3 363.8L931.1 361.9L932.0 360.0L932.7 358.1L933.5 356.1L934.1 354.1L934.7 352.1L935.3 350.1L935.9 348.0L936.4 346.0L936.8 344.0L937.2 341.9L937.6 339.8L937.9 337.8L938.2 335.7L938.4 333.7L938.6 331.6L938.8 329.5L939.0 327.5L939.1 325.4L939.2 323.3L939.3 321.3L939.4 319.2L939.4 317.1L939.5 315.1L939.5 313.0L939.5 310.9L939.5 308.8L939.6 306.8L939.6 304.7L939.6 302.6L939.6 300.5L939.6 298.4L939.6 296.4L939.6 294.3L939.6 292.2L939.7 290.1L939.7 288.0L939.7 285.9L939.7 283.8L939.8 281.8L939.8 279.7L939.9 277.6L939.9 275.5L939.9 273.4L940.0 271.3L940.0 269.3L940.1 267.2L940.1 265.1L940.2 263.0L940.2 260.9L940.2 258.8L940.3 256.8L940.3 254.7L940.4 252.6L940.4 250.5L940.4 248.4L940.5 246.4L940.5 244.3L940.5 242.2L940.6 240.1L940.6 238.1L940.6 236.0L940.6 233.9L940.7 231.8L940.7 229.8L940.7 227.7L940.7 225.6L940.7 223.5L940.8 221.5L940.8 219.4L940.8 217.3L940.8 215.2L940.8 213.1L940.9 211.1L940.9 209.0L940.9 206.9L940.9 204.8L940.9 202.7L940.9 200.6L941.0 198.5L941.0 196.4L941.0 194.3L941.0 192.2L941.0 190.1L941.1 188.1L941.1 186.0L941.1 183.9L941.1 181.8L941.1 179.7L941.2 177.6L941.2 175.5L941.2 173.5L941.3 171.4L941.3 169.3L941.3 167.3L941.4 165.2L941.4 163.2L941.4 161.1L941.5 159.1L941.5 157.0L941.6 155.0L941.6 152.9L941.6 150.9L941.6 148.8L941.6 146.7L941.6 144.6L941.6 142.5L941.5 140.3L941.4 138.1L941.4 135.9L941.3 133.7L941.3 131.5L941.5 129.4L941.7 127.4L942.1 125.4L942.6 123.6L943.4 121.9L944.3 120.3L945.6 118.9L947.0 117.8L948.7 117.2L950.7 117.1L952.7 117.6L954.7 118.4L956.7 119.4L958.5 120.5L960.3 121.6L962.1 122.9L963.8 124.1L965.6 125.4L967.3 126.5L969.0 127.7L970.8 128.7L972.6 129.8L974.4 130.8L976.1 131.8L977.9 132.8L979.7 133.8L981.6 134.8L983.4 135.9L985.2 136.9L987.0 138.0L987.5 153.0L989.5 153.5L991.5 153.9L993.5 154.2L995.5 154.6L997.6 154.9L999.6 155.2L1001.7 155.5L1003.7 155.7L1005.8 155.9L1007.9 156.1L1010.0 156.4L1012.0 156.6L1014.1 156.8L1016.2 157.0L1018.3 157.2L1020.4 157.4L1022.4 157.7L1024.5 157.9L1026.6 158.2L1028.6 158.5L1030.7 158.9L1032.8 159.3L1034.8 159.7L1036.8 160.1L1038.9 160.6L1040.9 161.1L1042.9 161.6L1044.9 162.2L1046.9 162.8L1048.8 163.5L1050.8 164.1L1052.7 164.9L1054.6 165.6L1056.5 166.4L1058.4 167.3L1060.3 168.1L1062.1 169.1L1063.9 170.0L1065.7 171.0L1067.5 172.1L1069.2 173.2L1070.9 174.3L1072.6 175.5L1074.3 176.7L1076.0 177.9L1077.6 179.2L1079.2 180.5L1080.8 181.8L1082.4 183.1L1084.0 184.5L1085.6 185.9L1087.1 187.3L1088.7 188.7L1090.2 190.1L1091.7 191.6L1093.2 193.0L1094.7 194.5L1096.2 195.9L1097.7 197.4L1099.2 198.8L1100.7 200.3L1102.2 201.8L1103.6 203.2L1105.1 204.7L1106.6 206.2L1108.0 207.7L1109.5 209.1L1111.0 210.6L1112.4 212.1L1113.9 213.6L1115.3 215.1L1116.8 216.5L1118.2 218.0L1119.7 219.5L1121.1 221.0L1122.6 222.5L1124.0 223.9L1125.5 225.4L1126.9 226.9L1128.4 228.4L1129.9 229.9L1131.3 231.3L1132.8 232.8L1134.2 234.3L1135.7 235.8L1137.1 237.2L1138.6 238.7L1140.1 240.2L1141.5 241.7L1143.0 243.1L1144.5 244.6L1145.9 246.1L1147.4 247.6L1148.9 249.0L1150.3 250.5L1151.8 252.0L1153.3 253.5L1154.7 254.9L1156.2 256.4L1157.7 257.9L1159.1 259.3L1160.6 260.8L1162.1 262.3L1163.5 263.8L1165.0 265.2L1166.5 266.7L1167.9 268.2L1169.4 269.6L1170.9 271.1L1172.3 272.6L1173.8 274.1L1175.3 275.5L1176.7 277.0L1178.2 278.5L1179.7 279.9L1181.1 281.4L1182.6 282.9L1184.1 284.4L1185.5 285.8L1187.0 287.3L1188.5 288.7L1190.0 290.2L1191.5 291.6L1193.0 293.0L1194.5 294.5L1196.0 295.9L1197.5 297.3L1199.1 298.6L1200.6 300.0L1202.2 301.4L1203.8 302.7L1205.4 304.0L1207.0 305.3L1208.6 306.6L1210.3 307.8L1211.9 309.1L1213.6 310.3L1215.3 311.5L1217.0 312.7L1218.7 313.9L1220.4 315.1L1222.1 316.3L1223.8 317.4L1225.6 318.6L1227.3 319.7L1229.1 320.9L1230.8 322.0L1232.5 323.1L1234.3 324.3L1236.0 325.4L1237.8 326.6L1239.5 327.7L1241.5 324.3L1243.4 325.2L1245.3 326.0L1247.3 326.9L1249.2 327.7L1251.1 328.6L1253.1 329.4L1255.0 330.2L1256.9 331.0L1258.9 331.8L1260.8 332.6L1262.8 333.4L1264.7 334.1L1266.7 334.9L1268.7 335.7L1270.6 336.4L1272.6 337.1L1274.6 337.8L1276.5 338.5L1278.5 339.2L1280.5 339.9L1282.5 340.6L1284.5 341.3L1286.5 341.9L1288.5 342.6L1290.5 343.2L1292.5 343.9L1294.5 344.5L1296.5 345.1L1298.5 345.7L1300.5 346.3L1302.5 346.9L1304.5 347.5L1306.6 348.0L1308.6 348.6L1310.6 349.1L1312.6 349.7L1314.7 350.2L1316.7 350.7L1318.7 351.2L1320.8 351.7L1322.8 352.2L1324.9 352.7L1326.9 353.2L1328.9 353.7L1331.0 354.2L1333.0 354.7L1335.1 355.1L1337.1 355.6L1339.2 356.1L1341.2 356.6L1343.3 357.0L1345.3 357.5L1347.4 358.0L1349.4 358.4L1351.5 358.9L1353.5 359.4L1355.6 359.9L1357.6 360.3L1359.7 360.8L1361.7 361.3L1363.7 361.8L1365.8 362.3L1367.8 362.8L1369.9 363.3L1371.9 363.8L1373.9 364.4L1376.0 364.9L1378.0 365.4L1380.0 366.0" stroke-width="3.0"/>
<path d="M781.0 395.3L1000.0 395.3L1002.0 395.2L1004.1 395.1L1006.3 395.0L1008.6 394.9L1010.8 394.7L1012.9 394.2L1014.9 393.4L1016.7 392.4L1018.3 391.2L1019.8 389.8L1021.1 388.2L1022.1 386.5L1022.9 384.7L1023.6 382.8L1024.1 380.8L1024.4 378.7L1024.6 376.6L1024.8 374.4L1024.8 372.2L1024.8 370.0L1024.8 367.8L1024.8 365.6L1024.8 363.4L1024.9 361.3L1025.0 359.2L1025.1 357.1L1025.2 355.0L1025.3 352.9L1025.4 350.8L1025.6 348.8L1025.7 346.7L1025.8 344.6L1025.9 342.5L1026.0 340.4L1026.0 338.2L1026.1 336.1L1026.2 333.9L1026.3 331.8L1026.5 329.6L1026.8 327.5L1027.3 325.5L1027.9 323.4L1028.7 321.5L1030.1 319.9L1031.4 318.2L1032.7 316.6L1034.0 314.9L1035.3 313.2L1036.6 311.5L1037.8 309.8L1039.0 308.1L1040.3 306.4L1041.5 304.7L1042.7 302.9L1043.9 301.2L1045.1 299.5L1046.2 297.7L1047.4 295.9L1048.6 294.2L1049.7 292.4L1050.9 290.6L1052.0 288.8L1053.2 287.0L1054.3 285.3L1055.5 283.5L1056.6 281.7L1057.8 279.9L1059.0 278.1L1060.1 276.3L1061.3 274.5L1062.4 272.7L1063.6 271.0L1064.8 269.2L1066.0 267.4L1067.2 265.6L1068.4 263.9L1069.7 262.1L1070.9 260.4L1072.2 258.7L1073.5 257.0L1074.8 255.4L1076.1 253.7L1077.5 252.1L1078.9 250.5L1080.3 249.0L1081.7 247.5L1083.2 246.0L1084.7 244.5L1086.2 243.1L1087.8 241.8L1089.4 240.5L1091.1 239.2L1092.8 238.0L1094.5 236.9L1096.3 235.8L1098.1 234.7L1100.0 233.7L1101.9 232.8L1103.9 232.0L1105.9 231.2L1108.0 230.5L1109.3 240.0L1111.4 239.0L1113.6 238.3L1115.7 237.7L1117.8 237.3L1119.9 237.1L1122.0 237.0L1124.1 237.1L1126.1 237.3L1128.1 237.7L1130.2 238.1L1132.2 238.7L1134.1 239.4L1136.1 240.2L1138.0 241.1L1140.0 242.0L1141.9 243.0L1143.7 244.0L1145.6 245.1L1147.4 246.3L1149.2 247.4L1151.0 248.6L1152.7 249.9L1154.5 251.1L1156.2 252.4L1157.9 253.7L1159.6 255.1L1161.3 256.4L1163.0 257.8L1164.7 259.2L1166.4 260.5L1168.0 261.9L1169.7 263.3L1171.4 264.7L1173.0 266.1L1174.7 267.4L1176.4 268.8L1178.0 270.2L1179.7 271.5L1181.4 272.9L1183.1 274.2L1184.8 275.5L1186.5 276.9L1188.2 278.2L1189.9 279.5L1191.6 280.7L1193.3 282.0L1195.0 283.3L1196.8 284.5L1198.5 285.8L1200.3 287.0L1202.0 288.2L1203.8 289.4L1205.6 290.6L1207.4 291.7L1209.2 292.9L1211.0 294.0L1212.8 295.1L1214.6 296.2L1216.5 297.3L1218.4 298.4L1220.2 299.4L1222.1 300.4L1224.0 301.5L1226.0 302.4L1227.9 303.4L1229.8 304.4L1231.8 305.3L1234.0 301.0L1235.9 302.0L1237.7 303.0L1239.6 304.0L1241.4 305.0L1243.3 306.0L1245.2 307.0L1247.0 308.0L1248.9 308.9L1250.8 309.9L1252.6 310.9L1254.5 311.9L1256.4 312.9L1258.2 313.8L1260.1 314.8L1262.0 315.8L1263.9 316.8L1265.8 317.7L1267.6 318.7L1269.5 319.6L1271.4 320.6L1273.3 321.5L1275.2 322.5L1277.1 323.4L1279.0 324.4L1280.8 325.3L1282.7 326.2L1284.6 327.2L1286.5 328.1L1288.4 329.0L1290.3 329.9L1292.2 330.9L1294.1 331.8L1296.0 332.7L1297.9 333.6L1299.9 334.5L1301.8 335.4L1303.7 336.3L1305.6 337.2L1307.5 338.0L1309.4 338.9L1311.4 339.8L1313.3 340.7L1315.2 341.5L1317.1 342.4L1319.1 343.2L1321.0 344.1L1322.9 344.9L1324.9 345.8L1326.8 346.6L1328.7 347.4L1330.7 348.3L1332.6 349.1L1334.6 349.9L1336.5 350.7L1338.5 351.5L1340.4 352.3L1342.4 353.1L1344.3 353.9L1346.3 354.7L1348.3 355.4L1350.2 356.2L1352.2 357.0L1354.2 357.7L1356.1 358.5L1358.1 359.2L1360.1 360.0L1362.1 360.7L1364.0 361.4L1366.0 362.1L1368.0 362.9L1370.0 363.6L1372.0 364.3L1374.0 365.0L1376.0 365.6L1378.0 366.3L1380.0 367.0" stroke-width="3.0"/>
<path d="M781.0 395.3L1085.3 395.3L1086.8 393.8L1088.2 392.2L1089.7 390.6L1091.0 389.0L1092.4 387.4L1093.7 385.7L1095.0 384.0L1096.2 382.3L1097.4 380.6L1098.6 378.8L1099.7 377.0L1100.8 375.2L1101.8 373.4L1102.8 371.6L1103.8 369.7L1104.7 367.8L1105.7 365.9L1106.6 364.0L1107.5 362.1L1108.4 360.1L1109.3 358.2L1110.2 356.3L1111.2 354.4L1112.1 352.5L1113.1 350.6L1114.0 348.7L1115.0 346.8L1116.0 344.9L1117.0 343.1L1118.0 341.2L1119.0 339.3L1120.0 337.5L1121.0 335.6L1122.1 333.7L1123.1 331.9L1124.2 330.1L1125.2 328.2L1126.3 326.4L1127.4 324.6L1128.5 322.8L1129.6 321.0L1130.8 319.2L1132.0 317.4L1133.1 315.6L1134.4 313.9L1135.6 312.2L1136.8 310.5L1138.1 308.8L1139.4 307.1L1140.7 305.5L1142.1 303.8L1143.4 302.2L1144.8 300.6L1146.2 299.0L1147.6 297.4L1149.0 295.8L1150.4 294.2L1151.8 292.7L1153.3 291.1L1154.7 289.6L1156.2 288.0L1157.6 286.4L1159.1 284.9L1160.5 283.3L1162.0 281.8L1163.5 280.2L1164.9 278.7L1166.4 277.1L1167.8 275.6L1169.3 274.0L1170.8 272.5L1172.2 270.9L1173.7 269.4L1175.2 267.8L1176.7 266.3L1178.2 264.8L1179.7 263.4L1181.2 261.9L1182.8 260.5L1184.4 259.1L1186.0 257.7L1187.6 256.4L1189.3 255.1L1191.0 253.9L1192.7 252.7L1194.5 251.5L1196.3 250.4L1198.1 249.4L1200.0 248.4L1202.0 247.5L1203.0 256.0L1204.6 254.7L1206.3 253.4L1208.1 252.2L1209.9 251.1L1211.9 250.2L1213.8 249.3L1215.9 248.5L1217.9 247.8L1220.0 247.3L1222.1 246.9L1224.1 246.6L1226.2 246.5L1228.3 246.5L1230.3 246.6L1232.3 246.9L1234.3 247.3L1236.2 247.9L1238.0 248.7L1239.8 249.6L1241.6 250.5L1243.3 251.6L1245.0 252.8L1246.6 254.1L1248.2 255.4L1249.8 256.8L1251.4 258.2L1252.9 259.7L1254.4 261.2L1255.9 262.7L1257.4 264.2L1258.9 265.7L1260.4 267.3L1261.8 268.8L1263.2 270.4L1264.6 271.9L1266.0 273.5L1267.4 275.1L1268.8 276.6L1270.2 278.2L1271.6 279.8L1273.0 281.4L1274.4 283.0L1275.7 284.5L1277.1 286.1L1278.5 287.7L1279.9 289.3L1281.2 290.9L1282.6 292.4L1284.0 294.0L1285.4 295.5L1286.8 297.1L1288.2 298.6L1289.6 300.1L1291.1 301.6L1292.5 303.1L1294.0 304.6L1295.5 306.1L1297.0 307.6L1298.5 309.0L1300.0 310.5L1301.5 311.9L1303.0 313.4L1304.5 314.8L1306.1 316.2L1307.7 317.6L1309.2 319.0L1310.8 320.4L1312.4 321.8L1313.9 323.1L1315.5 324.5L1317.1 325.9L1318.7 327.2L1320.3 328.6L1321.9 329.9L1323.6 331.3L1325.2 332.6L1326.8 334.0L1328.4 335.3L1330.0 336.6L1331.7 338.0L1333.3 339.3L1334.9 340.6L1336.5 342.0L1338.2 343.3L1339.8 344.6L1341.5 345.9L1343.1 347.2L1344.8 348.5L1346.4 349.8L1348.1 351.0L1349.8 352.2L1351.5 353.4L1353.2 354.6L1355.0 355.7L1356.7 356.8L1358.5 357.8L1360.3 358.8L1362.2 359.8L1364.0 360.7L1365.9 361.6L1367.8 362.4L1369.8 363.1L1371.7 363.8L1373.7 364.5L1375.8 365.1L1377.9 365.6L1380.0 366.0" stroke-width="3.0"/>
<path d="M781.0 395.3L1135.0 395.3L1137.0 395.2L1139.1 395.1L1141.3 394.9L1143.4 394.8L1145.6 394.6L1147.7 394.3L1149.8 394.0L1151.9 393.6L1154.0 393.1L1156.0 392.5L1158.0 391.8L1159.9 391.0L1161.7 390.1L1163.5 389.1L1165.2 387.9L1166.8 386.7L1168.5 385.5L1170.0 384.1L1171.6 382.7L1173.1 381.2L1174.5 379.8L1176.0 378.2L1177.4 376.7L1178.8 375.2L1180.2 373.6L1181.6 372.0L1183.0 370.4L1184.4 368.8L1185.8 367.2L1187.1 365.6L1188.5 364.0L1189.8 362.4L1191.2 360.8L1192.5 359.2L1193.9 357.6L1195.2 355.9L1196.6 354.3L1197.9 352.7L1199.3 351.1L1200.7 349.5L1202.1 347.9L1203.4 346.4L1204.8 344.8L1206.3 343.2L1207.7 341.7L1209.1 340.2L1210.6 338.7L1212.1 337.2L1213.6 335.7L1215.0 334.2L1216.6 332.7L1218.1 331.3L1219.6 329.9L1221.1 328.4L1222.7 327.0L1224.2 325.6L1225.8 324.1L1227.3 322.7L1228.9 321.3L1230.5 319.9L1232.0 318.5L1233.6 317.1L1235.2 315.7L1236.7 314.3L1238.3 312.9L1239.9 311.5L1241.4 310.1L1243.0 308.7L1244.5 307.3L1246.1 305.8L1247.7 304.4L1249.2 303.0L1250.8 301.6L1252.4 300.3L1254.0 298.9L1255.6 297.6L1257.2 296.2L1258.8 294.9L1260.5 293.6L1262.2 292.3L1263.8 291.1L1265.6 289.9L1267.3 288.7L1269.0 287.5L1270.8 286.4L1272.7 285.3L1274.5 284.3L1276.0 287.5L1277.3 285.9L1278.7 284.3L1280.3 282.9L1282.0 281.5L1283.8 280.2L1285.7 279.0L1287.7 277.9L1289.8 276.9L1291.9 276.1L1294.0 275.4L1296.2 274.8L1298.3 274.4L1300.5 274.1L1302.7 274.0L1304.8 274.0L1306.8 274.2L1308.9 274.6L1310.8 275.2L1312.6 276.0L1314.4 277.0L1316.0 278.2L1317.6 279.6L1319.1 281.2L1320.4 282.8L1321.7 284.6L1323.0 286.5L1324.1 288.4L1325.2 290.4L1326.3 292.4L1327.3 294.3L1328.3 296.3L1329.3 298.3L1330.2 300.3L1331.2 302.2L1332.1 304.2L1332.9 306.2L1333.8 308.1L1334.7 310.1L1335.6 312.1L1336.4 314.1L1337.3 316.0L1338.2 318.0L1339.0 320.0L1339.9 322.0L1340.8 324.0L1341.7 326.0L1342.6 328.0L1343.5 329.9L1344.5 331.9L1345.4 333.8L1346.4 335.8L1347.4 337.7L1348.4 339.6L1349.5 341.5L1350.6 343.4L1351.7 345.3L1352.8 347.1L1354.0 348.9L1355.2 350.7L1356.4 352.5L1357.7 354.3L1359.0 356.0L1360.4 357.7L1361.7 359.4L1363.1 361.1L1364.5 362.7L1366.0 364.4L1367.4 366.0L1368.9 367.6L1370.4 369.1L1372.0 370.7L1373.5 372.2L1375.1 373.7L1376.7 375.1L1378.4 376.6L1380.0 378.0" stroke-width="3.0"/>
<path d="M74.5 665.3L418.0 665.3" stroke-width="3.0"/>
<path d="M160.0 665.3L162.0 664.8L164.0 664.3L166.1 663.9L168.2 663.5L170.2 663.2L172.3 662.8L174.5 662.6L176.6 662.3L178.7 662.0L180.8 661.8L183.0 661.6L185.1 661.3L187.2 661.0L189.4 660.7L191.5 660.4L193.6 660.1L195.7 659.7L197.8 659.2L199.9 658.8L201.9 658.2L204.0 657.6L206.0 656.9L208.0 656.1L209.9 655.3L211.9 654.3L213.7 653.3L215.6 652.2L217.3 651.0L219.0 649.7L220.6 648.4L222.2 647.0L223.6 645.4L224.9 643.9L226.1 642.2L227.2 640.5L228.2 638.7L229.0 636.8L229.7 634.9L230.3 632.9L230.9 630.9L231.3 628.9L231.7 626.8L232.0 624.7L232.3 622.5L232.6 620.4L232.8 618.3L233.0 616.1L233.1 614.0L233.3 611.8L233.5 609.7L233.6 607.5L233.7 605.4L233.8 603.3L233.9 601.2L234.0 599.0L234.1 596.9L234.2 594.8L234.2 592.6L234.3 590.5L234.3 588.4L234.4 586.3L234.4 584.2L234.5 582.1L234.5 579.9L234.5 577.8L234.6 575.7L234.6 573.6L234.6 571.5L234.6 569.4L234.7 567.3L234.7 565.1L234.7 563.0L234.8 560.9L234.8 558.8L234.8 556.7L234.9 554.6L234.9 552.5L235.0 550.4L235.0 548.2L235.1 546.1L235.2 544.0L235.3 541.9L235.4 539.8L235.5 537.6L235.6 535.5L235.7 533.4L235.9 531.3L236.0 529.1L236.2 527.0C236.3 526.1 236.7 522.8 237.0 521.5C237.3 520.2 237.6 519.5 238.0 519.4C238.4 519.3 239.3 520.6 239.6 520.8L240.8 522.5L242.0 524.2L243.2 525.9L244.4 527.5L245.6 529.2L246.8 530.9L248.0 532.6L249.1 534.3L250.3 536.0L251.5 537.7L252.7 539.4L253.9 541.1L255.0 542.9L256.2 544.6L257.4 546.3L258.6 548.0L259.7 549.7L260.9 551.4L262.1 553.1L263.3 554.8L264.4 556.5L265.6 558.2L266.8 559.9L268.0 561.6L269.1 563.4L270.3 565.1L271.5 566.8L272.7 568.5L273.9 570.2L275.1 571.9L276.3 573.5L277.5 575.2L278.7 576.9L279.9 578.6L281.1 580.3L282.3 582.0L283.5 583.6L284.8 585.3L286.0 587.0L287.2 588.6L288.5 590.3L289.7 592.0L290.9 593.6L292.2 595.3L293.5 596.9L294.7 598.5L296.0 600.2L297.3 601.8L298.6 603.4L299.9 605.0L301.2 606.6L302.5 608.2L303.8 609.8L305.1 611.4L306.5 613.0L307.8 614.5L309.1 616.1L310.5 617.7L311.9 619.2L313.3 620.7L314.6 622.3L316.0 623.8L317.4 625.3L318.9 626.8L320.3 628.3L321.7 629.8L323.2 631.3L324.6 632.8L326.1 634.2L327.6 635.7L329.1 637.1L330.6 638.6L332.1 640.0L333.6 641.4L335.1 642.8L336.7 644.2L338.2 645.6L339.8 647.0L341.3 648.3L342.9 649.7L344.5 651.0L346.1 652.4L347.7 653.7L349.3 655.0L350.9 656.3L352.5 657.6L354.1 658.9L355.8 660.2L357.4 661.4L359.1 662.7L360.7 663.9L362.4 665.2L364.1 666.4L365.8 667.6L367.4 668.8L369.1 670.0L370.9 671.2L372.6 672.3L374.3 673.5L376.0 674.6L377.8 675.8L379.5 676.9L381.2 678.0L383.0 679.1L384.8 680.1L386.5 681.2L388.3 682.3L390.1 683.3L391.9 684.3L393.7 685.3L395.5 686.3L397.3 687.3L399.1 688.3L401.0 689.3L402.8 690.2L404.7 691.1L406.5 692.1L408.4 693.0L410.2 693.9L412.1 694.8L414.0 695.6L415.8 696.5L417.7 697.3L419.6 698.2L421.5 699.0L423.4 699.8L425.3 700.6L427.2 701.4L429.2 702.2L431.1 702.9L433.0 703.7L434.9 704.5L436.9 705.2L438.8 705.9L440.7 706.7L442.7 707.4L444.6 708.1L446.6 708.8L448.5 709.5L450.5 710.2L452.4 710.9L454.4 711.5L456.4 712.2L458.3 712.9L460.3 713.5L462.3 714.2L464.2 714.8L466.2 715.5L468.2 716.1L470.2 716.7L472.2 717.4L474.1 718.0L476.1 718.6L478.1 719.2L480.1 719.9L482.1 720.5L484.0 721.1L486.0 721.7L488.0 722.3L490.0 722.9L492.0 723.5L494.0 724.1L496.0 724.7L497.9 725.3L499.9 725.9L501.9 726.5L503.9 727.1L505.9 727.6L507.9 728.2L509.9 728.8L511.9 729.3L513.9 729.9L515.9 730.5L517.9 731.0L519.9 731.6L521.9 732.1L523.9 732.6L525.9 733.2L527.9 733.7L529.9 734.2L531.9 734.7L533.9 735.2L535.9 735.7L537.9 736.2L539.9 736.7L541.9 737.2L543.9 737.6L546.0 738.1L548.0 738.5L550.0 739.0L552.0 739.4L554.0 739.9L556.1 740.3L558.1 740.7L560.1 741.1L562.2 741.5L564.2 741.9L566.2 742.3L568.3 742.7L570.3 743.0L572.3 743.4L574.4 743.8L576.4 744.1L578.5 744.5L580.5 744.8L582.6 745.1L584.6 745.5L586.6 745.8L588.7 746.1L590.7 746.4L592.8 746.7L594.8 747.0L596.9 747.3L598.9 747.6L601.0 747.9L603.1 748.2L605.1 748.5L607.2 748.8L609.2 749.0L611.3 749.3L613.3 749.6L615.4 749.8L617.5 750.1L619.5 750.3L621.6 750.6L623.6 750.8L625.7 751.1L627.7 751.3L629.8 751.6L631.9 751.8L633.9 752.0L636.0 752.3L638.1 752.5L640.1 752.7L642.2 753.0L644.2 753.2L646.3 753.4L648.4 753.6L650.4 753.8L652.5 754.1L654.5 754.3L656.6 754.5L658.7 754.7L660.7 754.9L662.8 755.1L664.8 755.4L666.9 755.6L668.9 755.8L671.0 756.0" stroke-width="3.0"/>
<path d="M283.0 665.3L284.9 664.9L286.9 664.5L288.9 664.0L291.0 663.4L293.1 662.8L295.1 662.1L297.1 661.3L299.1 660.4L301.0 659.4L302.8 658.3L304.5 657.1L306.1 655.8L307.5 654.3L308.8 652.8L310.0 651.1L311.0 649.4L312.0 647.6L312.8 645.7L313.6 643.8L314.3 641.9L314.9 639.9L315.4 637.9L315.9 635.9L316.4 633.9L316.8 631.8L317.2 629.8L317.5 627.7L317.8 625.7L318.1 623.6L318.3 621.5L318.5 619.4L318.7 617.4L318.8 615.3L319.0 613.2L319.1 611.1L319.2 609.0L319.2 606.9L319.3 604.8L319.4 602.7L319.4 600.6L319.5 598.5L319.5 596.4L319.5 594.3L319.6 592.2L319.6 590.1L319.7 588.0L319.7 586.0L319.8 583.9L319.8 581.8L319.8 579.7L319.9 577.6L319.9 575.5L320.0 573.4L320.0 571.4L320.1 569.3L320.1 567.2L320.1 565.1L320.2 563.0L320.2 561.0L320.3 558.9L320.3 556.8L320.4 554.7L320.4 552.6L320.4 550.6L320.5 548.5L320.5 546.4L320.6 544.3L320.6 542.2L320.7 540.1L320.7 538.1L320.8 536.0L320.8 533.9L320.9 531.8L321.0 529.7L321.0 527.6L321.1 525.6L321.2 523.5L321.2 521.4L321.3 519.3L321.4 517.2L321.4 515.1L321.5 513.0C321.6 511.9 321.9 507.9 322.2 506.3C322.5 504.8 322.7 503.8 323.1 503.7C323.5 503.6 324.4 505.4 324.6 505.8L325.5 507.7L326.3 509.5L327.2 511.4L328.0 513.3L328.8 515.2L329.6 517.1L330.4 519.0L331.1 520.9L331.9 522.8L332.7 524.7L333.4 526.7L334.1 528.6L334.9 530.5L335.6 532.5L336.3 534.4L337.0 536.4L337.7 538.3L338.4 540.3L339.1 542.2L339.7 544.2L340.4 546.2L341.1 548.1L341.8 550.1L342.5 552.1L343.1 554.0L343.8 556.0L344.5 558.0L345.2 559.9L345.8 561.9L346.5 563.9L347.2 565.8L347.9 567.8L348.6 569.8L349.3 571.7L350.0 573.7L350.7 575.6L351.5 577.6L352.2 579.5L352.9 581.4L353.7 583.4L354.4 585.3L355.2 587.2L356.0 589.1L356.8 591.0L357.6 592.9L358.4 594.8L359.3 596.7L360.1 598.6L361.0 600.5L361.9 602.3L362.8 604.2L363.7 606.0L364.6 607.9L365.6 609.7L366.6 611.5L367.6 613.3L368.6 615.1L369.6 616.9L370.7 618.7L371.8 620.4L372.9 622.2L374.0 623.9L375.1 625.6L376.3 627.3L377.5 629.0L378.7 630.7L380.0 632.3L381.2 633.9L382.5 635.6L383.8 637.1L385.1 638.7L386.5 640.3L387.9 641.8L389.3 643.3L390.7 644.8L392.1 646.3L393.6 647.7L395.1 649.2L396.6 650.6L398.1 652.0L399.6 653.4L401.2 654.7L402.8 656.1L404.3 657.4L405.9 658.7L407.6 660.0L409.2 661.3L410.9 662.5L412.5 663.7L414.2 665.0L415.9 666.2L417.6 667.4L419.3 668.6L421.0 669.7L422.7 670.9L424.5 672.0L426.2 673.1L428.0 674.2L429.8 675.3L431.5 676.4L433.3 677.5L435.1 678.6L436.9 679.6L438.7 680.7L440.5 681.7L442.3 682.7L444.1 683.7L446.0 684.7L447.8 685.7L449.6 686.6L451.5 687.6L453.3 688.5L455.2 689.4L457.0 690.3L458.9 691.2L460.8 692.1L462.6 692.9L464.5 693.8L466.4 694.6L468.3 695.4L470.2 696.2L472.1 697.0L474.0 697.8L475.9 698.6L477.8 699.3L479.8 700.1L481.7 700.8L483.6 701.6L485.6 702.3L487.5 703.0L489.4 703.7L491.4 704.4L493.3 705.1L495.3 705.7L497.2 706.4L499.2 707.1L501.2 707.7L503.1 708.3L505.1 709.0L507.1 709.6L509.0 710.2L511.0 710.8L513.0 711.4L515.0 712.0L517.0 712.6L518.9 713.2L520.9 713.8L522.9 714.4L524.9 714.9L526.9 715.5L528.9 716.1L530.9 716.6L532.9 717.2L534.9 717.7L536.9 718.3L538.9 718.8L540.9 719.4L542.9 719.9L544.9 720.4L546.9 721.0L548.9 721.5L550.9 722.0L552.9 722.6L554.9 723.1L556.9 723.6L558.9 724.2L560.9 724.7L562.9 725.2L564.9 725.8L566.9 726.3L568.9 726.8L570.9 727.4L572.9 727.9L574.9 728.4L576.9 729.0L578.9 729.5L580.9 730.0L582.9 730.6L584.9 731.1L586.9 731.7L588.9 732.2L590.9 732.7L592.9 733.3L594.9 733.8L596.9 734.3L598.9 734.9L600.9 735.4L602.9 735.9L604.9 736.4L606.9 737.0L608.9 737.5L610.9 738.0L612.9 738.6L614.9 739.1L616.9 739.6L618.9 740.1L620.9 740.6L622.9 741.2L624.9 741.7L626.9 742.2L628.9 742.7L630.9 743.2L632.9 743.7L634.9 744.2L636.9 744.7L638.9 745.2L640.9 745.7L643.0 746.2L645.0 746.7L647.0 747.2L649.0 747.7L651.0 748.2L653.0 748.7L655.0 749.1L657.0 749.6L659.1 750.1L661.1 750.6L663.1 751.0L665.1 751.5L667.1 751.9L669.2 752.4L671.2 752.9L673.2 753.3" stroke-width="3.0"/>
<path d="M362.0 665.3L363.9 664.2L365.7 662.9L367.4 661.6L368.9 660.1L370.3 658.6L371.6 657.0L372.8 655.3L373.9 653.6L374.9 651.8L375.8 649.9L376.6 648.0L377.3 646.0L377.9 644.1L378.5 642.0L379.1 640.0L379.5 637.9L380.0 635.8L380.3 633.7L380.7 631.6L381.0 629.4L381.2 627.3L381.4 625.1L381.6 623.0L381.8 620.8L382.0 618.6L382.1 616.5L382.3 614.3L382.4 612.2L382.5 610.1L382.6 607.9L382.8 605.8L382.9 603.7L383.0 601.5L383.1 599.4L383.2 597.3L383.3 595.2L383.4 593.1L383.5 590.9L383.7 588.8L383.8 586.7L384.0 584.6L384.2 582.5L384.4 580.4L384.6 578.2L384.8 576.1L385.1 574.0C385.2 573.1 385.7 570.0 386.0 568.8C386.3 567.5 386.6 566.5 387.0 566.5C387.4 566.5 388.2 568.2 388.4 568.5L389.2 570.4L389.9 572.3L390.7 574.2L391.4 576.2L392.1 578.1L392.9 580.1L393.6 582.0L394.3 584.0L395.1 586.0L395.8 588.0L396.6 590.0L397.3 592.0L398.1 594.0L398.8 596.0L399.6 598.0L400.4 600.0L401.2 602.0L402.0 604.0L402.9 606.0L403.7 607.9L404.6 609.9L405.5 611.9L406.4 613.8L407.4 615.8L408.4 617.7L409.4 619.6L410.4 621.5L411.4 623.3L412.5 625.2L413.6 627.0L414.8 628.8L416.0 630.5L417.2 632.3L418.4 634.0L419.7 635.7L421.0 637.3L422.3 638.9L423.7 640.5L425.1 642.0L426.5 643.5L428.0 644.9L429.5 646.3L431.1 647.7L432.7 649.0L434.3 650.3L436.0 651.5L437.7 652.6L439.5 653.8L441.2 654.9L443.0 655.9L444.8 656.9L446.7 657.9L448.6 658.8L450.5 659.7L452.4 660.5L454.3 661.4L456.3 662.1L458.3 662.9L460.3 663.6L462.3 664.2L464.3 664.9L466.4 665.5L468.4 666.1L470.5 666.6L472.5 667.1L474.6 667.6L476.7 668.1L478.8 668.5L480.8 669.0L482.9 669.4L485.0 669.8L487.1 670.2L489.2 670.6L491.3 671.0L493.4 671.4L495.5 671.8L497.6 672.2L499.7 672.6L501.8 673.0L503.9 673.4L506.0 673.9L508.1 674.3L510.1 674.8L512.2 675.3L514.2 675.8L516.3 676.4L518.3 676.9L520.3 677.5L522.3 678.1L524.3 678.8L526.3 679.4L528.3 680.1L530.3 680.8L532.3 681.5L534.2 682.3L536.2 683.0L538.2 683.8L540.1 684.6L542.1 685.4L544.0 686.2L545.9 687.1L547.9 687.9L549.8 688.8L551.7 689.7L553.6 690.5L555.5 691.4L557.4 692.4L559.3 693.3L561.2 694.2L563.1 695.1L565.0 696.1L566.9 697.0L568.8 698.0L570.7 698.9L572.6 699.9L574.4 700.9L576.3 701.9L578.2 702.8L580.1 703.8L581.9 704.8L583.8 705.8L585.7 706.8L587.6 707.8L589.5 708.7L591.3 709.7L593.2 710.7L595.1 711.7L597.0 712.7L598.8 713.6L600.7 714.6L602.6 715.6L604.5 716.5L606.4 717.5L608.3 718.5L610.1 719.4L612.0 720.4L613.9 721.3L615.8 722.3L617.7 723.2L619.6 724.2L621.5 725.1L623.4 726.1L625.3 727.0L627.2 728.0L629.0 728.9L630.9 729.8L632.8 730.8L634.7 731.7L636.6 732.6L638.5 733.6L640.4 734.5L642.3 735.4L644.2 736.3L646.1 737.2L648.1 738.2L650.0 739.1L651.9 740.0L653.8 740.9L655.7 741.8L657.6 742.7L659.5 743.6L661.4 744.5L663.3 745.4L665.2 746.3L667.2 747.2L669.1 748.1L671.0 749.0" stroke-width="3.0"/>
<path d="M418.0 665.3L419.9 664.8L421.8 664.2L423.7 663.7L425.7 663.1L427.6 662.6L429.6 662.0L431.6 661.5L433.5 661.0L435.5 660.4L437.5 659.9L439.5 659.4L441.5 659.0L443.5 658.5L445.6 658.1L447.6 657.7L449.6 657.3L451.7 657.0L453.7 656.7L455.8 656.4L457.8 656.2L459.9 656.0L462.0 655.8L464.0 655.6L466.1 655.5L468.2 655.4L470.2 655.3L472.3 655.3L474.4 655.3L476.4 655.3L478.5 655.3L480.6 655.3L482.7 655.4L484.7 655.5L486.8 655.6L488.8 655.8L490.9 655.9L493.0 656.1L495.0 656.3L497.1 656.6L499.1 656.8L501.2 657.0L503.2 657.3L505.3 657.6L507.3 657.9L509.4 658.2L511.4 658.5L513.4 658.8L515.5 659.1L517.5 659.5L519.6 659.8L521.6 660.2L523.7 660.5L525.7 660.9L527.7 661.2L529.8 661.6L531.8 661.9L533.9 662.2L535.9 662.6L538.0 662.9L540.0 663.3L542.1 663.6L544.1 663.9L546.2 664.2L548.2 664.5L550.3 664.8L552.3 665.1L554.4 665.3L556.4 665.6L558.5 665.8L560.6 666.0L562.6 666.2L564.7 666.4L566.8 666.6L568.8 666.8L570.9 667.0L573.0 667.2L575.0 667.4L577.1 667.6L579.2 667.8L581.2 668.1L583.3 668.3L585.3 668.6L587.4 668.9L589.4 669.2L591.4 669.6L593.4 670.0L595.5 670.5L597.5 671.0L599.5 671.5L601.4 672.1L603.4 672.8L605.3 673.5L607.2 674.3L609.0 675.2L610.7 676.2L612.5 677.3L614.1 678.4L615.7 679.7L617.2 681.1L618.7 682.5L620.2 684.0L621.6 685.5L622.9 687.1L624.3 688.7L625.6 690.3L627.0 691.9L628.3 693.6L629.6 695.2L630.9 696.8L632.2 698.4L633.5 700.1L634.8 701.7L636.1 703.3L637.4 704.9L638.7 706.6L640.0 708.2L641.3 709.8L642.6 711.4L643.9 713.0L645.2 714.6L646.5 716.2L647.8 717.8L649.2 719.4L650.5 720.9L651.8 722.5L653.2 724.1L654.6 725.6L655.9 727.1L657.3 728.6L658.7 730.1L660.2 731.6L661.6 733.1L663.1 734.6L664.5 736.0L666.0 737.5L667.5 738.9L669.1 740.3L670.6 741.7L672.2 743.1L673.8 744.4" stroke-width="3.0"/>
<path d="M781.0 647.7L1127.0 647.7" stroke-width="3.0"/>
<path d="M870.5 647.7L872.5 648.2L874.5 648.8L876.5 649.6L878.4 650.5L880.3 651.4L882.2 652.4L884.1 653.4L886.0 654.4L887.9 655.4L889.8 656.3L891.7 657.2L893.7 658.1L895.6 658.9L897.6 659.8L899.5 660.6L901.4 661.5L903.4 662.4L905.3 663.3L907.2 664.3L909.0 665.4L910.9 666.5L912.7 667.6L914.5 668.8L916.2 670.1L917.9 671.4L919.6 672.8L921.2 674.2L922.8 675.6L924.3 677.1L925.7 678.7L927.1 680.3L928.5 681.9L929.8 683.6L931.0 685.3L932.1 687.1L933.1 688.9L934.1 690.7L935.0 692.6L935.8 694.5L936.5 696.5L937.2 698.5L937.7 700.5L938.2 702.5L938.6 704.6L939.0 706.7L939.3 708.8L939.5 710.9L939.7 713.1L939.8 715.2L940.0 717.4L940.1 719.6L940.1 721.8L940.2 724.0L940.2 726.1L940.3 728.3L940.3 730.5L940.4 732.6L940.4 734.8L940.5 736.9L940.6 739.0L940.7 741.2L940.8 743.3L940.9 745.3L941.1 747.4L941.2 749.5L941.4 751.6L941.5 753.7L941.6 755.8L941.7 757.9L941.9 760.0L942.0 762.1L942.1 764.2L942.2 766.3L942.2 768.5L942.3 770.6L942.3 772.8L942.3 775.0C942.4 775.5 942.7 777.5 943.0 778.2C943.3 779.0 943.7 779.5 944.3 779.5C944.9 779.5 946.1 778.5 946.5 778.3L948.1 777.0L949.7 775.7L951.3 774.4L952.8 773.1L954.4 771.8L956.0 770.5L957.5 769.1L959.0 767.7L960.6 766.3L962.1 765.0L963.6 763.6L965.1 762.2L966.6 760.8L968.1 759.3L969.6 757.9L971.1 756.5L972.6 755.1L974.1 753.6L975.6 752.2L977.1 750.8L978.6 749.4L980.1 748.0L981.6 746.5L983.1 745.1L984.6 743.7L986.1 742.3L987.7 741.0L989.2 739.6L990.8 738.2L992.3 736.8L993.9 735.5L995.4 734.2L997.0 732.9L998.6 731.6L1000.2 730.3L1001.8 729.0L1003.5 727.7L1005.1 726.5L1006.8 725.3L1008.4 724.0L1010.1 722.8L1011.8 721.7L1013.4 720.5L1015.1 719.3L1016.8 718.2L1018.6 717.0L1020.3 715.9L1022.0 714.8L1023.8 713.7L1025.5 712.6L1027.3 711.6L1029.0 710.5L1030.8 709.4L1032.6 708.4L1034.4 707.4L1036.2 706.4L1038.0 705.4L1039.8 704.4L1041.6 703.4L1043.4 702.4L1045.2 701.5L1047.1 700.6L1048.9 699.6L1050.7 698.7L1052.6 697.8L1054.4 696.9L1056.3 696.0L1058.2 695.1L1060.0 694.2L1061.9 693.4L1063.8 692.5L1065.6 691.7L1067.5 690.8L1069.4 690.0L1071.3 689.1L1073.2 688.3L1075.0 687.4L1076.9 686.6L1078.8 685.7L1080.7 684.9L1082.6 684.0L1084.4 683.2L1086.3 682.3L1088.2 681.5L1090.1 680.6L1091.9 679.8L1093.8 678.9L1095.7 678.0L1097.6 677.2L1099.4 676.3L1101.3 675.5L1103.2 674.6L1105.1 673.7L1106.9 672.9L1108.8 672.0L1110.7 671.1L1112.5 670.3L1114.4 669.4L1116.3 668.5L1118.1 667.7L1120.0 666.8L1121.9 665.9L1123.7 665.0L1125.6 664.2L1127.5 663.3L1129.3 662.4L1131.2 661.5L1133.1 660.6L1134.9 659.8L1136.8 658.9L1138.7 658.0L1140.5 657.1L1142.4 656.3L1144.3 655.4L1146.1 654.5L1148.0 653.6L1149.9 652.7L1151.7 651.9L1153.6 651.0L1155.5 650.1L1157.3 649.2L1159.2 648.3L1161.1 647.5L1162.9 646.6L1164.8 645.7L1166.7 644.8L1168.5 644.0L1170.4 643.1L1172.3 642.2L1174.1 641.3L1176.0 640.5L1177.9 639.6L1179.7 638.7L1181.6 637.8L1183.5 637.0L1185.3 636.1L1187.2 635.2L1189.1 634.3L1190.9 633.4L1192.8 632.6L1194.7 631.7L1196.5 630.8L1198.4 629.9L1200.3 629.0L1202.1 628.2L1204.0 627.3L1205.8 626.4L1207.7 625.5L1209.6 624.6L1211.4 623.7L1213.3 622.8L1215.1 621.9L1217.0 621.0L1218.8 620.1L1220.7 619.2L1222.5 618.3L1224.4 617.4L1226.2 616.5L1228.1 615.5L1229.9 614.6L1231.8 613.7L1233.6 612.8L1235.5 611.8L1237.3 610.9L1239.1 610.0L1241.0 609.0L1242.8 608.1L1244.6 607.2L1246.5 606.2L1248.3 605.3L1250.1 604.3L1251.9 603.3L1253.8 602.4L1255.6 601.4L1257.4 600.4L1259.2 599.5L1261.0 598.5L1262.8 597.5L1264.6 596.5L1266.4 595.5L1268.2 594.5L1270.0 593.5L1271.8 592.5L1273.6 591.5L1275.4 590.4L1277.2 589.4L1279.0 588.4L1280.8 587.3L1282.6 586.3L1284.3 585.3L1286.1 584.2L1287.9 583.2L1289.6 582.1L1291.4 581.0L1293.2 580.0L1294.9 578.9L1296.7 577.8L1298.5 576.8L1300.2 575.7L1302.0 574.6L1303.7 573.5L1305.5 572.4L1307.2 571.3L1309.0 570.2L1310.7 569.1L1312.5 568.0L1314.2 566.9L1316.0 565.8L1317.7 564.7L1319.4 563.6L1321.2 562.5L1322.9 561.4L1324.7 560.2L1326.4 559.1L1328.1 558.0L1329.9 556.9L1331.6 555.8L1333.3 554.6L1335.1 553.5L1336.8 552.4L1338.5 551.3L1340.3 550.1L1342.0 549.0L1343.7 547.9L1345.4 546.8L1347.2 545.6L1348.9 544.5L1350.6 543.4L1352.3 542.2L1354.1 541.1L1355.8 540.0L1357.5 538.9L1359.3 537.7L1361.0 536.6L1362.7 535.5L1364.4 534.4L1366.2 533.2L1367.9 532.1L1369.6 531.0L1371.3 529.9L1373.1 528.8L1374.8 527.6L1376.5 526.5L1378.3 525.4L1380.0 524.3" stroke-width="3.0"/>
<path d="M992.0 647.7L993.9 648.3L995.9 649.0L997.8 649.8L999.6 650.7L1001.5 651.7L1003.3 652.8L1005.0 654.0L1006.7 655.2L1008.3 656.5L1009.9 657.9L1011.3 659.4L1012.7 660.9L1014.1 662.5L1015.3 664.1L1016.4 665.8L1017.4 667.6L1018.4 669.4L1019.2 671.2L1020.0 673.1L1020.8 675.0L1021.4 676.9L1022.0 678.9L1022.5 680.9L1023.0 682.9L1023.4 685.0L1023.8 687.0L1024.1 689.1L1024.4 691.1L1024.7 693.2L1024.9 695.3L1025.1 697.3L1025.3 699.4L1025.5 701.5L1025.6 703.5L1025.7 705.6L1025.8 707.7L1025.9 709.7L1026.0 711.8L1026.1 713.9L1026.1 716.0L1026.2 718.0L1026.2 720.1L1026.3 722.2L1026.3 724.3L1026.4 726.3L1026.4 728.4L1026.5 730.5L1026.6 732.6L1026.6 734.6L1026.8 736.7L1026.9 738.8L1027.0 740.8L1027.2 742.9L1027.4 744.9L1027.6 747.0C1027.7 747.6 1027.9 749.8 1028.2 750.6C1028.5 751.5 1028.8 752.0 1029.4 752.1C1030.0 752.2 1031.6 751.4 1032.0 751.3L1033.9 750.5L1035.7 749.6L1037.6 748.6L1039.4 747.6L1041.2 746.5L1042.9 745.4L1044.7 744.3L1046.4 743.1L1048.1 741.9L1049.8 740.7L1051.5 739.4L1053.2 738.2L1054.9 736.9L1056.6 735.6L1058.3 734.3L1059.9 733.0L1061.6 731.8L1063.3 730.5L1065.0 729.2L1066.7 728.0L1068.4 726.7L1070.1 725.6L1071.8 724.4L1073.6 723.3L1075.3 722.2L1077.1 721.1L1078.9 720.1L1080.8 719.2L1082.6 718.3L1084.5 717.4L1086.4 716.6L1088.3 715.8L1090.2 715.1L1092.2 714.3L1094.1 713.7L1096.1 713.0L1098.1 712.4L1100.1 711.8L1102.1 711.2L1104.1 710.6L1106.1 710.1L1108.1 709.6L1110.2 709.1L1112.2 708.5L1114.3 708.1L1116.3 707.6L1118.4 707.1L1120.4 706.6L1122.5 706.1L1124.6 705.6L1126.6 705.1L1128.7 704.6L1130.7 704.0L1132.7 703.5L1134.8 702.9L1136.8 702.4L1138.8 701.8L1140.8 701.2L1142.8 700.6L1144.9 700.0L1146.8 699.3L1148.8 698.7L1150.8 698.0L1152.8 697.3L1154.8 696.6L1156.7 695.8L1158.7 695.1L1160.6 694.3L1162.5 693.5L1164.4 692.7L1166.3 691.9L1168.2 691.0L1170.1 690.2L1172.0 689.3L1173.8 688.3L1175.7 687.4L1177.5 686.4L1179.3 685.4L1181.1 684.4L1182.9 683.3L1184.7 682.3L1186.5 681.2L1188.2 680.0L1190.0 678.9L1191.7 677.7L1193.4 676.6L1195.1 675.4L1196.8 674.2L1198.5 673.0L1200.2 671.7L1201.9 670.5L1203.6 669.2L1205.2 667.9L1206.9 666.6L1208.5 665.3L1210.2 664.0L1211.8 662.7L1213.5 661.4L1215.1 660.1L1216.7 658.8L1218.4 657.4L1220.0 656.1L1221.6 654.8L1223.3 653.4L1224.9 652.1L1226.5 650.8L1228.1 649.4L1229.8 648.1L1231.4 646.8L1233.0 645.4L1234.6 644.1L1236.2 642.7L1237.8 641.4L1239.4 640.0L1241.1 638.7L1242.7 637.4L1244.3 636.0L1245.9 634.7L1247.5 633.3L1249.1 632.0L1250.7 630.6L1252.3 629.3L1253.9 627.9L1255.5 626.6L1257.1 625.2L1258.7 623.9L1260.3 622.5L1261.9 621.2L1263.5 619.8L1265.1 618.5L1266.7 617.1L1268.3 615.8L1269.9 614.4L1271.5 613.1L1273.1 611.7L1274.7 610.4L1276.3 609.0L1277.9 607.7L1279.5 606.3L1281.1 605.0L1282.7 603.6L1284.3 602.3L1285.9 600.9L1287.5 599.6L1289.1 598.3L1290.7 596.9L1292.3 595.6L1293.9 594.2L1295.5 592.9L1297.1 591.5L1298.7 590.2L1300.3 588.8L1301.9 587.5L1303.5 586.1L1305.1 584.8L1306.7 583.5L1308.3 582.1L1309.9 580.8L1311.5 579.4L1313.1 578.1L1314.7 576.8L1316.3 575.4L1317.9 574.1L1319.5 572.7L1321.2 571.4L1322.8 570.1L1324.4 568.7L1326.0 567.4L1327.6 566.1L1329.2 564.7L1330.8 563.4L1332.4 562.1L1334.1 560.8L1335.7 559.4L1337.3 558.1L1338.9 556.8L1340.5 555.5L1342.2 554.2L1343.8 552.8L1345.4 551.5L1347.0 550.2L1348.7 548.9L1350.3 547.6L1351.9 546.3L1353.6 545.0L1355.2 543.7L1356.9 542.4L1358.5 541.1L1360.1 539.8L1361.8 538.5L1363.4 537.2L1365.1 535.9L1366.7 534.6L1368.4 533.3L1370.0 532.0L1371.7 530.7L1373.3 529.4L1375.0 528.1L1376.7 526.9L1378.3 525.6L1380.0 524.3" stroke-width="3.0"/>
<path d="M1069.0 647.7L1071.1 648.4L1073.0 649.3L1074.7 650.5L1076.3 651.9L1077.7 653.5L1079.0 655.2L1080.1 657.0L1081.2 659.0L1082.1 661.0L1083.0 663.0L1083.8 665.0L1084.5 667.1L1085.2 669.2L1085.8 671.3L1086.4 673.5L1086.8 675.6L1087.3 677.8L1087.7 679.9L1088.0 682.1L1088.3 684.3L1088.6 686.5L1088.8 688.6L1089.1 690.8L1089.4 693.0L1089.6 695.1L1090.0 697.3L1090.3 699.4L1090.8 701.5L1091.4 703.6L1092.1 705.6L1093.1 707.5L1094.3 709.3L1095.7 711.0L1097.6 711.8L1099.6 712.5L1101.6 713.2L1103.6 713.9L1105.6 714.6L1107.6 715.2L1109.7 715.8L1111.7 716.4L1113.8 716.9L1115.8 717.4L1117.9 717.9L1120.0 718.3L1122.1 718.7L1124.1 719.0L1126.2 719.3L1128.3 719.5L1130.4 719.7L1132.5 719.8L1134.6 719.9L1136.7 719.9L1138.7 719.9L1140.8 719.8L1142.9 719.7L1144.9 719.5L1147.0 719.3L1149.0 719.0L1151.1 718.6L1153.1 718.2L1155.1 717.8L1157.1 717.3L1159.1 716.8L1161.1 716.2L1163.1 715.6L1165.1 715.0L1167.1 714.3L1169.1 713.6L1171.1 712.9L1173.1 712.2L1175.0 711.4L1177.0 710.6L1178.9 709.8L1180.9 709.0L1182.8 708.2L1184.8 707.3L1186.7 706.5L1188.7 705.6L1190.6 704.8L1192.5 703.9L1194.4 703.0L1196.4 702.2L1198.3 701.3L1200.2 700.4L1202.1 699.4L1204.0 698.5L1205.9 697.6L1207.7 696.7L1209.6 695.7L1211.5 694.7L1213.3 693.8L1215.2 692.8L1217.0 691.8L1218.9 690.7L1220.7 689.7L1222.5 688.7L1224.3 687.6L1226.1 686.5L1227.9 685.4L1229.7 684.3L1231.4 683.2L1233.2 682.1L1235.0 680.9L1236.7 679.7L1238.4 678.5L1240.1 677.3L1241.8 676.1L1243.5 674.9L1245.2 673.6L1246.9 672.4L1248.6 671.1L1250.2 669.8L1251.9 668.5L1253.5 667.2L1255.1 665.9L1256.7 664.5L1258.3 663.2L1259.9 661.8L1261.5 660.4L1263.0 659.0L1264.6 657.6L1266.1 656.2L1267.7 654.8L1269.2 653.3L1270.7 651.9L1272.2 650.4L1273.7 648.9L1275.2 647.5L1276.7 646.0L1278.1 644.5L1279.6 643.0L1281.0 641.4L1282.5 639.9L1283.9 638.4L1285.3 636.8L1286.7 635.3L1288.1 633.7L1289.6 632.2L1290.9 630.6L1292.3 629.0L1293.7 627.4L1295.1 625.9L1296.5 624.3L1297.9 622.7L1299.2 621.1L1300.6 619.5L1301.9 617.9L1303.3 616.2L1304.7 614.6L1306.0 613.0L1307.3 611.4L1308.7 609.8L1310.0 608.1L1311.4 606.5L1312.7 604.9L1314.1 603.3L1315.4 601.6L1316.7 600.0L1318.1 598.4L1319.4 596.8L1320.7 595.1L1322.1 593.5L1323.4 591.9L1324.7 590.3L1326.1 588.6L1327.4 587.0L1328.7 585.4L1330.1 583.8L1331.4 582.2L1332.8 580.6L1334.1 579.0L1335.5 577.3L1336.8 575.7L1338.1 574.1L1339.5 572.5L1340.8 570.9L1342.2 569.3L1343.5 567.7L1344.9 566.1L1346.2 564.5L1347.6 562.9L1348.9 561.3L1350.3 559.7L1351.6 558.1L1352.9 556.5L1354.3 554.8L1355.6 553.2L1357.0 551.6L1358.3 550.0L1359.7 548.4L1361.1 546.8L1362.4 545.2L1363.8 543.6L1365.1 542.0L1366.5 540.4L1367.8 538.8L1369.2 537.2L1370.5 535.6L1371.9 534.0L1373.2 532.4L1374.6 530.8L1375.9 529.1L1377.3 527.5L1378.6 525.9L1380.0 524.3" stroke-width="3.0"/>
<path d="M1127.0 647.7L1128.7 648.7L1130.4 649.7L1132.1 650.9L1133.7 652.1L1135.4 653.4L1137.0 654.7L1138.6 656.0L1140.2 657.3L1141.8 658.6L1143.5 659.9L1145.1 661.1L1146.8 662.3L1148.6 663.5L1150.3 664.6L1152.1 665.6L1153.9 666.7L1155.8 667.6L1157.6 668.6L1159.5 669.5L1161.4 670.4L1163.3 671.3L1165.2 672.1L1167.1 672.9L1169.1 673.6L1171.0 674.4L1173.0 675.1L1175.0 675.8L1177.0 676.4L1179.0 677.0L1181.1 677.6L1183.1 678.1L1185.2 678.7L1187.2 679.2L1189.3 679.6L1191.3 680.0L1193.4 680.4L1195.5 680.8L1197.5 681.1L1199.6 681.4L1201.7 681.7L1203.8 681.9L1205.9 682.1L1207.9 682.3L1210.0 682.4L1212.1 682.5L1214.2 682.6L1216.2 682.7L1218.3 682.7L1220.4 682.7L1222.5 682.7L1224.6 682.6L1226.6 682.5L1228.7 682.4L1230.8 682.3L1232.9 682.1L1234.9 682.0L1237.0 681.8L1239.1 681.6L1241.1 681.3L1243.2 681.1L1245.3 680.8L1247.4 680.5L1249.4 680.2L1251.5 679.9L1253.6 679.6L1255.6 679.2L1257.7 678.8L1259.8 678.5L1261.8 678.1L1263.9 677.7L1265.9 677.3L1268.0 676.8L1270.1 676.4L1272.1 676.0L1274.2 675.5L1276.2 675.0L1278.3 674.6L1280.4 674.1L1282.4 673.6L1284.5 673.1L1286.5 672.7L1288.6 672.2L1290.6 671.7L1292.7 671.2L1294.7 670.7L1296.7 670.1L1298.7 669.5L1300.7 668.9L1302.7 668.2L1304.6 667.5L1306.5 666.7L1308.3 665.8L1310.1 664.8L1311.8 663.8L1313.5 662.6L1315.2 661.4L1316.8 660.1L1318.3 658.7L1319.8 657.2L1321.3 655.7L1322.7 654.1L1324.1 652.5L1325.5 650.9L1326.8 649.2L1328.1 647.6L1329.3 645.9L1330.5 644.2L1331.7 642.4L1332.9 640.7L1334.0 638.9L1335.1 637.1L1336.2 635.4L1337.3 633.5L1338.3 631.7L1339.3 629.9L1340.3 628.1L1341.3 626.2L1342.3 624.4L1343.2 622.5L1344.2 620.6L1345.1 618.8L1346.0 616.9L1346.9 615.0L1347.8 613.1L1348.6 611.2L1349.5 609.3L1350.4 607.4L1351.2 605.5L1352.1 603.6L1352.9 601.7L1353.8 599.7L1354.6 597.8L1355.5 595.9L1356.3 594.0L1357.1 592.1L1357.9 590.1L1358.7 588.2L1359.5 586.3L1360.3 584.3L1361.1 582.4L1361.9 580.5L1362.6 578.5L1363.4 576.6L1364.2 574.6L1364.9 572.7L1365.7 570.7L1366.4 568.8L1367.2 566.8L1367.9 564.9L1368.7 562.9L1369.4 560.9L1370.1 559.0L1370.9 557.0L1371.6 555.1L1372.3 553.1L1373.0 551.1L1373.7 549.2L1374.4 547.2L1375.1 545.2L1375.8 543.3L1376.5 541.3L1377.2 539.3L1377.9 537.3L1378.6 535.4L1379.3 533.4L1380.0 531.4" stroke-width="3.0"/>
</g>
<g fill="#111">
<text transform="translate(55.1 104.7) scale(1.095 1)" font-size="31" font-family="Liberation Sans, sans-serif" text-anchor="end" stroke="#111" stroke-width="0.3">150</text>
<text transform="translate(55.1 204.7) scale(1.095 1)" font-size="31" font-family="Liberation Sans, sans-serif" text-anchor="end" stroke="#111" stroke-width="0.3">100</text>
<text transform="translate(55.1 304.7) scale(1.095 1)" font-size="31" font-family="Liberation Sans, sans-serif" text-anchor="end" stroke="#111" stroke-width="0.3">50</text>
<text transform="translate(55.1 404.8) scale(1.095 1)" font-size="31" font-family="Liberation Sans, sans-serif" text-anchor="end" stroke="#111" stroke-width="0.3">0</text>
<text transform="translate(762.3 106.3) scale(1.095 1)" font-size="31" font-family="Liberation Sans, sans-serif" text-anchor="end" stroke="#111" stroke-width="0.3">600</text>
<text transform="translate(762.3 206.29999999999998) scale(1.095 1)" font-size="31" font-family="Liberation Sans, sans-serif" text-anchor="end" stroke="#111" stroke-width="0.3">400</text>
<text transform="translate(762.3 306.3) scale(1.095 1)" font-size="31" font-family="Liberation Sans, sans-serif" text-anchor="end" stroke="#111" stroke-width="0.3">200</text>
<text transform="translate(762.3 406.3) scale(1.095 1)" font-size="31" font-family="Liberation Sans, sans-serif" text-anchor="end" stroke="#111" stroke-width="0.3">0</text>
<text transform="translate(58.2 568.0) scale(1.095 1)" font-size="31" font-family="Liberation Sans, sans-serif" text-anchor="end" stroke="#111" stroke-width="0.3">40</text>
<text transform="translate(58.2 687.9) scale(1.095 1)" font-size="31" font-family="Liberation Sans, sans-serif" text-anchor="end" stroke="#111" stroke-width="0.3">20</text>
<text transform="translate(58.2 807.9) scale(1.095 1)" font-size="31" font-family="Liberation Sans, sans-serif" text-anchor="end" stroke="#111" stroke-width="0.3">0</text>
<text transform="translate(764.8 508.3) scale(1.095 1)" font-size="31" font-family="Liberation Sans, sans-serif" text-anchor="end" stroke="#111" stroke-width="0.3">1</text>
<text transform="translate(765.4 658.7) scale(1.095 1)" font-size="31" font-family="Liberation Sans, sans-serif" text-anchor="end" stroke="#111" stroke-width="0.3">0</text>
<text transform="translate(769.1 808.1) scale(1.095 1)" font-size="31" font-family="Liberation Sans, sans-serif" text-anchor="end" stroke="#111" stroke-width="0.3">–<tspan dx="1.8">1</tspan></text>
<text transform="translate(68.3 840.7) scale(1.095 1)" font-size="31" font-family="Liberation Sans, sans-serif" text-anchor="middle" stroke="#111" stroke-width="0.3">0.0</text>
<text transform="translate(775.2 841.3) scale(1.095 1)" font-size="31" font-family="Liberation Sans, sans-serif" text-anchor="middle" stroke="#111" stroke-width="0.3">0.0</text>
<text transform="translate(188.3 840.7) scale(1.095 1)" font-size="31" font-family="Liberation Sans, sans-serif" text-anchor="middle" stroke="#111" stroke-width="0.3">0.1</text>
<text transform="translate(895.2 841.3) scale(1.095 1)" font-size="31" font-family="Liberation Sans, sans-serif" text-anchor="middle" stroke="#111" stroke-width="0.3">0.1</text>
<text transform="translate(308.3 840.7) scale(1.095 1)" font-size="31" font-family="Liberation Sans, sans-serif" text-anchor="middle" stroke="#111" stroke-width="0.3">0.2</text>
<text transform="translate(1015.2 841.3) scale(1.095 1)" font-size="31" font-family="Liberation Sans, sans-serif" text-anchor="middle" stroke="#111" stroke-width="0.3">0.2</text>
<text transform="translate(428.3 840.7) scale(1.095 1)" font-size="31" font-family="Liberation Sans, sans-serif" text-anchor="middle" stroke="#111" stroke-width="0.3">0.3</text>
<text transform="translate(1135.2 841.3) scale(1.095 1)" font-size="31" font-family="Liberation Sans, sans-serif" text-anchor="middle" stroke="#111" stroke-width="0.3">0.3</text>
<text transform="translate(548.3 840.7) scale(1.095 1)" font-size="31" font-family="Liberation Sans, sans-serif" text-anchor="middle" stroke="#111" stroke-width="0.3">0.4</text>
<text transform="translate(1255.2 841.3) scale(1.095 1)" font-size="31" font-family="Liberation Sans, sans-serif" text-anchor="middle" stroke="#111" stroke-width="0.3">0.4</text>
<text transform="translate(668.3 840.7) scale(1.095 1)" font-size="31" font-family="Liberation Sans, sans-serif" text-anchor="middle" stroke="#111" stroke-width="0.3">0.5</text>
<text transform="translate(1375.2 841.3) scale(1.095 1)" font-size="31" font-family="Liberation Sans, sans-serif" text-anchor="middle" stroke="#111" stroke-width="0.3">0.5</text>
<text x="700.5" y="30.7" font-size="39" font-family="Liberation Sans, sans-serif" text-anchor="end" font-weight="bold">a)</text>
<text x="1382.7" y="30.7" font-size="39" font-family="Liberation Sans, sans-serif" text-anchor="end" font-weight="bold">b)</text>
<text x="700.5" y="452.6" font-size="39" font-family="Liberation Sans, sans-serif" text-anchor="end" font-weight="bold">c)</text>
<text x="1382.7" y="452.6" font-size="39" font-family="Liberation Sans, sans-serif" text-anchor="end" font-weight="bold">d)</text>
<text x="5.2" y="58.6" font-size="36.5" font-family="Liberation Serif, serif" stroke="#111" stroke-width="0.25"><tspan font-style="italic">T</tspan><tspan font-style="italic" font-size="22" dx="-1.4" dy="7">e,i</tspan><tspan dy="-7" dx="4.3">,10</tspan><tspan font-size="18.5" dy="-20" dx="0.4">6</tspan><tspan dy="20" dx="-0.6">K</tspan></text>
<text x="722.7" y="53.8" font-size="36" font-family="Liberation Serif, serif" stroke="#111" stroke-width="0.25">χ</text>
<text x="742.2" y="62.6" font-size="22.5" font-style="italic" font-family="Liberation Serif, serif" stroke="#111" stroke-width="0.25">B</text>
<text transform="translate(756.8 53.6) scale(1.07 1)" font-size="34" font-family="Liberation Sans, sans-serif" stroke="#111" stroke-width="0.25">, μs</text>
<text x="816.3" y="32.9" font-size="20" font-family="Liberation Sans, sans-serif" stroke="#111" stroke-width="0.25">-1</text>
<text transform="translate(50.8 477.7) scale(0.955 1)" font-size="35.8" font-family="Liberation Sans, sans-serif" stroke="#111" stroke-width="0.25">ρ, g/cm<tspan font-size="23" dy="-13.5" dx="-0.4">3</tspan></text>
<text x="756" y="476" font-size="35.8" font-family="Liberation Sans, sans-serif" stroke="#111" stroke-width="0.25"><tspan font-style="italic">u</tspan>, 10<tspan font-size="18.5" dy="-19.6" dx="0.6">3</tspan><tspan dy="19.6" dx="0.2">km/s</tspan></text>
<text x="341" y="783" font-size="36.5" font-family="Liberation Serif, serif"><tspan font-style="italic">x</tspan>, mm</text>
<text x="1290.5" y="781.6" font-size="36.5" font-family="Liberation Serif, serif"><tspan font-style="italic">x</tspan>, mm</text>
<text x="244" y="225.2" font-size="36.5" font-family="Liberation Serif, serif" text-anchor="start">4</text>
<text x="305.5" y="260" font-size="36.5" font-family="Liberation Serif, serif" text-anchor="start">3</text>
<text x="371" y="295.5" font-size="36.5" font-family="Liberation Serif, serif" text-anchor="start">2</text>
<text x="551.6" y="231.1" font-size="36.2" font-family="Liberation Sans, sans-serif" text-anchor="start">1</text>
<text x="621.5" y="86" font-size="36" font-family="Liberation Sans, sans-serif" text-anchor="start">1</text>
<text x="917.3" y="145.8" font-size="36.5" font-family="Liberation Serif, serif" text-anchor="start">4</text>
<text x="1044.5" y="265.7" font-size="36" font-family="Liberation Serif, serif" text-anchor="start">3</text>
<text x="1211.5" y="235.2" font-size="36" font-family="Liberation Serif, serif" text-anchor="start">2</text>
<text x="1322.5" y="288.5" font-size="36" font-family="Liberation Sans, sans-serif" text-anchor="start">1</text>
<text x="211.2" y="555.7" font-size="36.5" font-family="Liberation Serif, serif" text-anchor="start">4</text>
<text x="341.5" y="525.7" font-size="36" font-family="Liberation Serif, serif" text-anchor="start">3</text>
<text x="402" y="575.2" font-size="36" font-family="Liberation Serif, serif" text-anchor="start">2</text>
<text x="491.5" y="648.5" font-size="36" font-family="Liberation Sans, sans-serif" text-anchor="start">1</text>
<text x="914" y="775.7" font-size="36.5" font-family="Liberation Serif, serif" text-anchor="start">4</text>
<text x="1045.5" y="775" font-size="36" font-family="Liberation Serif, serif" text-anchor="start">3</text>
<text x="1141" y="750.8" font-size="36" font-family="Liberation Serif, serif" text-anchor="start">2</text>
<text x="1301.5" y="698.6" font-size="36" font-family="Liberation Sans, sans-serif" text-anchor="start">1</text>
</g>
</svg>
</body></html>
